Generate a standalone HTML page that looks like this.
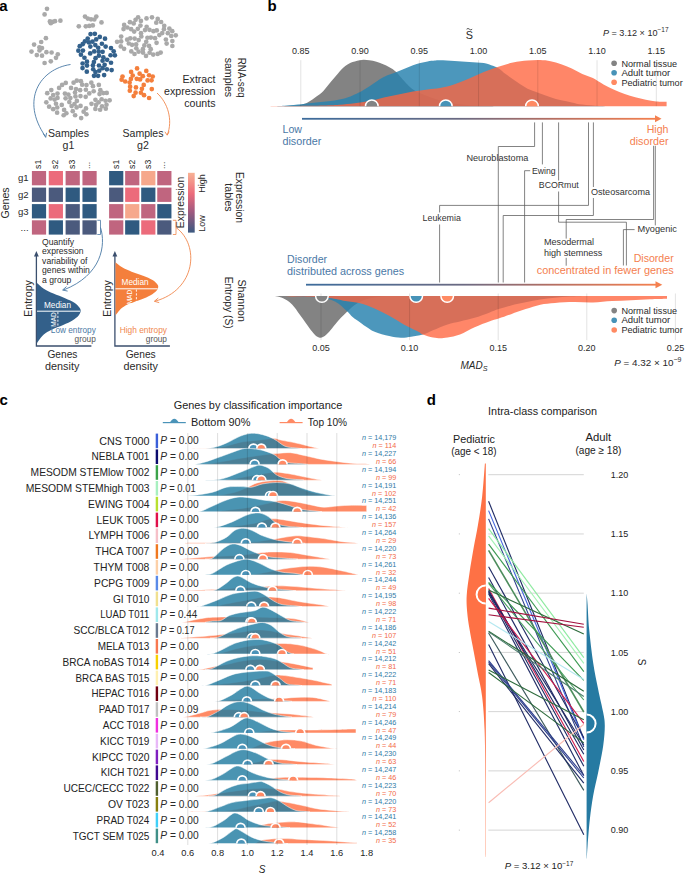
<!DOCTYPE html>
<html><head><meta charset="utf-8"><style>
html,body{margin:0;padding:0;background:#fff;}
svg{display:block;font-family:"Liberation Sans",sans-serif;}
</style></head><body>
<svg width="685" height="873" viewBox="0 0 685 873">
<rect width="685" height="873" fill="#fff"/>
<circle cx="47.00" cy="8.80" r="2.35" fill="#a9a9a9"/>
<circle cx="44.60" cy="14.40" r="2.35" fill="#a9a9a9"/>
<circle cx="49.90" cy="21.40" r="2.35" fill="#a9a9a9"/>
<circle cx="52.60" cy="21.90" r="2.35" fill="#a9a9a9"/>
<circle cx="55.00" cy="21.20" r="2.35" fill="#a9a9a9"/>
<circle cx="60.40" cy="20.70" r="2.35" fill="#a9a9a9"/>
<circle cx="50.80" cy="23.20" r="2.35" fill="#a9a9a9"/>
<circle cx="85.00" cy="16.60" r="2.35" fill="#a9a9a9"/>
<circle cx="87.80" cy="18.60" r="2.35" fill="#a9a9a9"/>
<circle cx="91.00" cy="19.30" r="2.35" fill="#a9a9a9"/>
<circle cx="96.30" cy="16.60" r="2.35" fill="#a9a9a9"/>
<circle cx="94.30" cy="19.50" r="2.35" fill="#a9a9a9"/>
<circle cx="101.50" cy="22.40" r="2.35" fill="#a9a9a9"/>
<circle cx="78.80" cy="26.30" r="2.35" fill="#a9a9a9"/>
<circle cx="85.80" cy="26.30" r="2.35" fill="#a9a9a9"/>
<circle cx="89.30" cy="25.90" r="2.35" fill="#a9a9a9"/>
<circle cx="92.80" cy="25.40" r="2.35" fill="#a9a9a9"/>
<circle cx="45.90" cy="38.20" r="2.35" fill="#a9a9a9"/>
<circle cx="41.20" cy="42.00" r="2.35" fill="#a9a9a9"/>
<circle cx="34.10" cy="44.60" r="2.35" fill="#a9a9a9"/>
<circle cx="39.40" cy="47.30" r="2.35" fill="#a9a9a9"/>
<circle cx="42.00" cy="48.10" r="2.35" fill="#a9a9a9"/>
<circle cx="31.50" cy="51.60" r="2.35" fill="#a9a9a9"/>
<circle cx="36.80" cy="55.10" r="2.35" fill="#a9a9a9"/>
<circle cx="42.00" cy="55.70" r="2.35" fill="#a9a9a9"/>
<circle cx="46.40" cy="52.20" r="2.35" fill="#a9a9a9"/>
<circle cx="51.60" cy="52.50" r="2.35" fill="#a9a9a9"/>
<circle cx="57.80" cy="54.30" r="2.35" fill="#a9a9a9"/>
<circle cx="56.00" cy="57.80" r="2.35" fill="#a9a9a9"/>
<circle cx="50.80" cy="61.30" r="2.35" fill="#a9a9a9"/>
<circle cx="44.60" cy="63.00" r="2.35" fill="#a9a9a9"/>
<circle cx="39.50" cy="50.50" r="2.35" fill="#a9a9a9"/>
<circle cx="130.28" cy="38.31" r="2.35" fill="#a9a9a9"/>
<circle cx="127.20" cy="39.67" r="2.35" fill="#a9a9a9"/>
<circle cx="128.82" cy="43.48" r="2.35" fill="#a9a9a9"/>
<circle cx="132.07" cy="44.85" r="2.35" fill="#a9a9a9"/>
<circle cx="175.74" cy="35.28" r="2.35" fill="#a9a9a9"/>
<circle cx="129.92" cy="22.22" r="2.35" fill="#a9a9a9"/>
<circle cx="133.70" cy="23.41" r="2.35" fill="#a9a9a9"/>
<circle cx="135.58" cy="19.82" r="2.35" fill="#a9a9a9"/>
<circle cx="138.10" cy="17.24" r="2.35" fill="#a9a9a9"/>
<circle cx="144.36" cy="45.47" r="2.35" fill="#a9a9a9"/>
<circle cx="146.23" cy="41.82" r="2.35" fill="#a9a9a9"/>
<circle cx="147.47" cy="37.77" r="2.35" fill="#a9a9a9"/>
<circle cx="150.86" cy="37.56" r="2.35" fill="#a9a9a9"/>
<circle cx="124.16" cy="24.90" r="2.35" fill="#a9a9a9"/>
<circle cx="127.40" cy="27.50" r="2.35" fill="#a9a9a9"/>
<circle cx="131.17" cy="29.19" r="2.35" fill="#a9a9a9"/>
<circle cx="134.20" cy="31.55" r="2.35" fill="#a9a9a9"/>
<circle cx="140.45" cy="25.53" r="2.35" fill="#a9a9a9"/>
<circle cx="156.28" cy="22.69" r="2.35" fill="#a9a9a9"/>
<circle cx="165.90" cy="39.51" r="2.35" fill="#a9a9a9"/>
<circle cx="145.01" cy="30.11" r="2.35" fill="#a9a9a9"/>
<circle cx="146.64" cy="26.76" r="2.35" fill="#a9a9a9"/>
<circle cx="140.91" cy="20.88" r="2.35" fill="#a9a9a9"/>
<circle cx="138.67" cy="40.04" r="2.35" fill="#a9a9a9"/>
<circle cx="134.61" cy="38.62" r="2.35" fill="#a9a9a9"/>
<circle cx="151.99" cy="17.29" r="2.35" fill="#a9a9a9"/>
<circle cx="138.61" cy="51.67" r="2.35" fill="#a9a9a9"/>
<circle cx="153.21" cy="54.57" r="2.35" fill="#a9a9a9"/>
<circle cx="149.63" cy="52.73" r="2.35" fill="#a9a9a9"/>
<circle cx="150.74" cy="49.16" r="2.35" fill="#a9a9a9"/>
<circle cx="149.09" cy="45.96" r="2.35" fill="#a9a9a9"/>
<circle cx="136.33" cy="48.32" r="2.35" fill="#a9a9a9"/>
<circle cx="136.16" cy="44.41" r="2.35" fill="#a9a9a9"/>
<circle cx="156.76" cy="30.46" r="2.35" fill="#a9a9a9"/>
<circle cx="153.48" cy="31.22" r="2.35" fill="#a9a9a9"/>
<circle cx="149.46" cy="29.82" r="2.35" fill="#a9a9a9"/>
<circle cx="137.84" cy="28.82" r="2.35" fill="#a9a9a9"/>
<circle cx="164.23" cy="25.79" r="2.35" fill="#a9a9a9"/>
<circle cx="163.94" cy="29.17" r="2.35" fill="#a9a9a9"/>
<circle cx="162.26" cy="33.07" r="2.35" fill="#a9a9a9"/>
<circle cx="159.35" cy="35.07" r="2.35" fill="#a9a9a9"/>
<circle cx="120.80" cy="46.42" r="2.35" fill="#a9a9a9"/>
<circle cx="124.09" cy="48.85" r="2.35" fill="#a9a9a9"/>
<circle cx="121.13" cy="41.39" r="2.35" fill="#a9a9a9"/>
<circle cx="117.06" cy="41.82" r="2.35" fill="#a9a9a9"/>
<circle cx="141.01" cy="33.21" r="2.35" fill="#a9a9a9"/>
<circle cx="141.34" cy="36.50" r="2.35" fill="#a9a9a9"/>
<circle cx="157.62" cy="53.88" r="2.35" fill="#a9a9a9"/>
<circle cx="160.67" cy="52.58" r="2.35" fill="#a9a9a9"/>
<circle cx="172.34" cy="41.10" r="2.35" fill="#a9a9a9"/>
<circle cx="171.25" cy="35.99" r="2.35" fill="#a9a9a9"/>
<circle cx="121.17" cy="36.59" r="2.35" fill="#a9a9a9"/>
<circle cx="155.02" cy="38.19" r="2.35" fill="#a9a9a9"/>
<circle cx="157.71" cy="18.93" r="2.35" fill="#a9a9a9"/>
<circle cx="172.34" cy="45.99" r="2.35" fill="#a9a9a9"/>
<circle cx="166.64" cy="43.61" r="2.35" fill="#a9a9a9"/>
<circle cx="146.02" cy="55.90" r="2.35" fill="#a9a9a9"/>
<circle cx="161.12" cy="22.01" r="2.35" fill="#a9a9a9"/>
<circle cx="169.36" cy="28.60" r="2.35" fill="#a9a9a9"/>
<circle cx="172.26" cy="31.17" r="2.35" fill="#a9a9a9"/>
<circle cx="167.83" cy="33.16" r="2.35" fill="#a9a9a9"/>
<circle cx="131.30" cy="51.47" r="2.35" fill="#a9a9a9"/>
<circle cx="134.54" cy="53.98" r="2.35" fill="#a9a9a9"/>
<circle cx="123.53" cy="29.07" r="2.35" fill="#a9a9a9"/>
<circle cx="156.55" cy="42.82" r="2.35" fill="#a9a9a9"/>
<circle cx="146.52" cy="18.44" r="2.35" fill="#a9a9a9"/>
<circle cx="142.89" cy="49.18" r="2.35" fill="#a9a9a9"/>
<circle cx="142.98" cy="52.59" r="2.35" fill="#a9a9a9"/>
<circle cx="85.99" cy="108.43" r="2.35" fill="#a9a9a9"/>
<circle cx="100.12" cy="109.76" r="2.35" fill="#a9a9a9"/>
<circle cx="75.99" cy="89.12" r="2.35" fill="#a9a9a9"/>
<circle cx="74.99" cy="92.49" r="2.35" fill="#a9a9a9"/>
<circle cx="63.67" cy="115.24" r="2.35" fill="#a9a9a9"/>
<circle cx="66.38" cy="113.24" r="2.35" fill="#a9a9a9"/>
<circle cx="85.67" cy="96.85" r="2.35" fill="#a9a9a9"/>
<circle cx="59.11" cy="87.90" r="2.35" fill="#a9a9a9"/>
<circle cx="62.13" cy="84.89" r="2.35" fill="#a9a9a9"/>
<circle cx="80.55" cy="105.94" r="2.35" fill="#a9a9a9"/>
<circle cx="76.63" cy="107.42" r="2.35" fill="#a9a9a9"/>
<circle cx="64.92" cy="93.59" r="2.35" fill="#a9a9a9"/>
<circle cx="68.40" cy="94.61" r="2.35" fill="#a9a9a9"/>
<circle cx="98.63" cy="102.36" r="2.35" fill="#a9a9a9"/>
<circle cx="96.05" cy="104.94" r="2.35" fill="#a9a9a9"/>
<circle cx="95.39" cy="108.89" r="2.35" fill="#a9a9a9"/>
<circle cx="57.51" cy="97.93" r="2.35" fill="#a9a9a9"/>
<circle cx="54.62" cy="99.56" r="2.35" fill="#a9a9a9"/>
<circle cx="50.64" cy="98.40" r="2.35" fill="#a9a9a9"/>
<circle cx="69.30" cy="102.06" r="2.35" fill="#a9a9a9"/>
<circle cx="91.50" cy="103.82" r="2.35" fill="#a9a9a9"/>
<circle cx="106.73" cy="92.93" r="2.35" fill="#a9a9a9"/>
<circle cx="103.33" cy="93.03" r="2.35" fill="#a9a9a9"/>
<circle cx="100.37" cy="90.20" r="2.35" fill="#a9a9a9"/>
<circle cx="105.57" cy="100.76" r="2.35" fill="#a9a9a9"/>
<circle cx="106.50" cy="104.75" r="2.35" fill="#a9a9a9"/>
<circle cx="105.79" cy="108.71" r="2.35" fill="#a9a9a9"/>
<circle cx="65.60" cy="98.37" r="2.35" fill="#a9a9a9"/>
<circle cx="109.64" cy="100.31" r="2.35" fill="#a9a9a9"/>
<circle cx="61.76" cy="104.89" r="2.35" fill="#a9a9a9"/>
<circle cx="82.16" cy="84.68" r="2.35" fill="#a9a9a9"/>
<circle cx="80.92" cy="81.16" r="2.35" fill="#a9a9a9"/>
<circle cx="76.80" cy="80.70" r="2.35" fill="#a9a9a9"/>
<circle cx="73.60" cy="82.65" r="2.35" fill="#a9a9a9"/>
<circle cx="51.29" cy="90.12" r="2.35" fill="#a9a9a9"/>
<circle cx="57.11" cy="112.72" r="2.35" fill="#a9a9a9"/>
<circle cx="89.29" cy="93.41" r="2.35" fill="#a9a9a9"/>
<circle cx="102.04" cy="106.35" r="2.35" fill="#a9a9a9"/>
<circle cx="92.97" cy="86.20" r="2.35" fill="#a9a9a9"/>
<circle cx="91.33" cy="82.72" r="2.35" fill="#a9a9a9"/>
<circle cx="57.23" cy="107.52" r="2.35" fill="#a9a9a9"/>
<circle cx="76.87" cy="100.88" r="2.35" fill="#a9a9a9"/>
<circle cx="74.48" cy="103.98" r="2.35" fill="#a9a9a9"/>
<circle cx="71.62" cy="106.05" r="2.35" fill="#a9a9a9"/>
<circle cx="99.54" cy="94.08" r="2.35" fill="#a9a9a9"/>
<circle cx="72.74" cy="111.21" r="2.35" fill="#a9a9a9"/>
<circle cx="70.38" cy="98.10" r="2.35" fill="#a9a9a9"/>
<circle cx="86.41" cy="114.26" r="2.35" fill="#a9a9a9"/>
<circle cx="83.63" cy="111.69" r="2.35" fill="#a9a9a9"/>
<circle cx="93.67" cy="91.23" r="2.35" fill="#a9a9a9"/>
<circle cx="80.12" cy="90.18" r="2.35" fill="#a9a9a9"/>
<circle cx="53.18" cy="109.16" r="2.35" fill="#a9a9a9"/>
<circle cx="47.23" cy="93.14" r="2.35" fill="#a9a9a9"/>
<circle cx="75.11" cy="115.25" r="2.35" fill="#a9a9a9"/>
<circle cx="64.11" cy="109.95" r="2.35" fill="#a9a9a9"/>
<circle cx="80.47" cy="96.10" r="2.35" fill="#a9a9a9"/>
<circle cx="55.98" cy="103.77" r="2.35" fill="#a9a9a9"/>
<circle cx="53.19" cy="95.04" r="2.35" fill="#a9a9a9"/>
<circle cx="49.12" cy="106.69" r="2.35" fill="#a9a9a9"/>
<circle cx="85.86" cy="89.77" r="2.35" fill="#a9a9a9"/>
<circle cx="101.62" cy="99.25" r="2.35" fill="#a9a9a9"/>
<circle cx="98.84" cy="84.95" r="2.35" fill="#a9a9a9"/>
<circle cx="57.49" cy="93.60" r="2.35" fill="#a9a9a9"/>
<circle cx="81.15" cy="118.09" r="2.35" fill="#a9a9a9"/>
<circle cx="95.43" cy="99.87" r="2.35" fill="#a9a9a9"/>
<circle cx="65.76" cy="82.92" r="2.35" fill="#a9a9a9"/>
<circle cx="46.31" cy="102.29" r="2.35" fill="#a9a9a9"/>
<circle cx="86.49" cy="85.12" r="2.35" fill="#a9a9a9"/>
<circle cx="75.46" cy="96.43" r="2.35" fill="#a9a9a9"/>
<circle cx="71.03" cy="87.91" r="2.35" fill="#a9a9a9"/>
<circle cx="95.54" cy="58.18" r="2.35" fill="#33618c"/>
<circle cx="98.90" cy="55.73" r="2.35" fill="#33618c"/>
<circle cx="98.68" cy="51.63" r="2.35" fill="#33618c"/>
<circle cx="98.18" cy="47.75" r="2.35" fill="#33618c"/>
<circle cx="84.46" cy="57.73" r="2.35" fill="#33618c"/>
<circle cx="98.97" cy="65.48" r="2.35" fill="#33618c"/>
<circle cx="104.63" cy="64.78" r="2.35" fill="#33618c"/>
<circle cx="102.60" cy="68.16" r="2.35" fill="#33618c"/>
<circle cx="90.35" cy="46.62" r="2.35" fill="#33618c"/>
<circle cx="82.92" cy="50.62" r="2.35" fill="#33618c"/>
<circle cx="99.25" cy="70.69" r="2.35" fill="#33618c"/>
<circle cx="104.13" cy="75.06" r="2.35" fill="#33618c"/>
<circle cx="92.49" cy="41.67" r="2.35" fill="#33618c"/>
<circle cx="88.94" cy="42.47" r="2.35" fill="#33618c"/>
<circle cx="87.71" cy="38.60" r="2.35" fill="#33618c"/>
<circle cx="78.37" cy="50.63" r="2.35" fill="#33618c"/>
<circle cx="96.18" cy="39.44" r="2.35" fill="#33618c"/>
<circle cx="113.69" cy="51.36" r="2.35" fill="#33618c"/>
<circle cx="110.58" cy="55.24" r="2.35" fill="#33618c"/>
<circle cx="101.89" cy="43.76" r="2.35" fill="#33618c"/>
<circle cx="93.92" cy="62.04" r="2.35" fill="#33618c"/>
<circle cx="92.93" cy="65.33" r="2.35" fill="#33618c"/>
<circle cx="93.21" cy="69.24" r="2.35" fill="#33618c"/>
<circle cx="95.43" cy="71.99" r="2.35" fill="#33618c"/>
<circle cx="87.00" cy="65.60" r="2.35" fill="#33618c"/>
<circle cx="86.97" cy="61.70" r="2.35" fill="#33618c"/>
<circle cx="95.31" cy="45.07" r="2.35" fill="#33618c"/>
<circle cx="103.35" cy="57.33" r="2.35" fill="#33618c"/>
<circle cx="102.55" cy="60.74" r="2.35" fill="#33618c"/>
<circle cx="82.54" cy="68.04" r="2.35" fill="#33618c"/>
<circle cx="82.63" cy="63.52" r="2.35" fill="#33618c"/>
<circle cx="86.80" cy="71.71" r="2.35" fill="#33618c"/>
<circle cx="102.60" cy="51.79" r="2.35" fill="#33618c"/>
<circle cx="79.74" cy="46.18" r="2.35" fill="#33618c"/>
<circle cx="82.67" cy="44.18" r="2.35" fill="#33618c"/>
<circle cx="84.87" cy="41.40" r="2.35" fill="#33618c"/>
<circle cx="80.91" cy="54.63" r="2.35" fill="#33618c"/>
<circle cx="111.64" cy="70.05" r="2.35" fill="#33618c"/>
<circle cx="111.01" cy="62.74" r="2.35" fill="#33618c"/>
<circle cx="114.88" cy="55.36" r="2.35" fill="#33618c"/>
<circle cx="110.99" cy="48.03" r="2.35" fill="#33618c"/>
<circle cx="93.99" cy="75.80" r="2.35" fill="#33618c"/>
<circle cx="98.08" cy="75.78" r="2.35" fill="#33618c"/>
<circle cx="99.83" cy="36.97" r="2.35" fill="#33618c"/>
<circle cx="105.02" cy="38.70" r="2.35" fill="#33618c"/>
<circle cx="94.23" cy="51.41" r="2.35" fill="#33618c"/>
<circle cx="90.55" cy="34.09" r="2.35" fill="#33618c"/>
<circle cx="94.83" cy="33.87" r="2.35" fill="#33618c"/>
<circle cx="107.13" cy="59.81" r="2.35" fill="#33618c"/>
<circle cx="90.19" cy="53.41" r="2.35" fill="#33618c"/>
<circle cx="106.89" cy="69.32" r="2.35" fill="#33618c"/>
<circle cx="105.65" cy="46.61" r="2.35" fill="#33618c"/>
<circle cx="129.82" cy="90.67" r="2.35" fill="#f47f3c"/>
<circle cx="130.11" cy="86.71" r="2.35" fill="#f47f3c"/>
<circle cx="151.79" cy="89.07" r="2.35" fill="#f47f3c"/>
<circle cx="139.63" cy="73.70" r="2.35" fill="#f47f3c"/>
<circle cx="142.79" cy="76.13" r="2.35" fill="#f47f3c"/>
<circle cx="140.09" cy="79.47" r="2.35" fill="#f47f3c"/>
<circle cx="136.76" cy="78.87" r="2.35" fill="#f47f3c"/>
<circle cx="149.09" cy="97.98" r="2.35" fill="#f47f3c"/>
<circle cx="149.08" cy="75.24" r="2.35" fill="#f47f3c"/>
<circle cx="152.72" cy="76.49" r="2.35" fill="#f47f3c"/>
<circle cx="151.54" cy="80.29" r="2.35" fill="#f47f3c"/>
<circle cx="147.60" cy="80.39" r="2.35" fill="#f47f3c"/>
<circle cx="141.91" cy="88.82" r="2.35" fill="#f47f3c"/>
<circle cx="140.89" cy="92.73" r="2.35" fill="#f47f3c"/>
<circle cx="144.04" cy="95.16" r="2.35" fill="#f47f3c"/>
<circle cx="129.62" cy="82.54" r="2.35" fill="#f47f3c"/>
<circle cx="130.90" cy="78.88" r="2.35" fill="#f47f3c"/>
<circle cx="132.75" cy="75.49" r="2.35" fill="#f47f3c"/>
<circle cx="125.22" cy="81.49" r="2.35" fill="#f47f3c"/>
<circle cx="121.62" cy="79.72" r="2.35" fill="#f47f3c"/>
<circle cx="122.52" cy="76.50" r="2.35" fill="#f47f3c"/>
<circle cx="146.29" cy="70.93" r="2.35" fill="#f47f3c"/>
<circle cx="131.13" cy="71.92" r="2.35" fill="#f47f3c"/>
<circle cx="135.95" cy="87.42" r="2.35" fill="#f47f3c"/>
<circle cx="143.72" cy="84.96" r="2.35" fill="#f47f3c"/>
<circle cx="133.70" cy="96.04" r="2.35" fill="#f47f3c"/>
<circle cx="135.56" cy="92.66" r="2.35" fill="#f47f3c"/>
<circle cx="137.08" cy="68.47" r="2.35" fill="#f47f3c"/>
<path d="M70.5,64.5 C40,69 20,100 45.5,136.5" stroke="#4a79a5" stroke-width="0.9" fill="none"/>
<path d="M43.2,133.6 L45.7,137.4 L46.6,132.8" stroke="#4a79a5" stroke-width="0.9" fill="none"/>
<path d="M157,93 C168,103 173,120 167.3,135" stroke="#f0884e" stroke-width="0.9" fill="none"/>
<path d="M164.9,131.8 L167.2,135.2 L169.1,131.6" stroke="#f0884e" stroke-width="0.9" fill="none"/>
<text x="-0.80" y="10.80" font-size="15" fill="#000" font-weight="bold">a</text>
<text x="68.50" y="137.40" font-size="10.6" fill="#2a2a2a" text-anchor="middle" textLength="41.00" lengthAdjust="spacingAndGlyphs">Samples</text>
<text x="68.50" y="148.60" font-size="10.6" fill="#2a2a2a" text-anchor="middle">g1</text>
<text x="143.00" y="137.40" font-size="10.6" fill="#2a2a2a" text-anchor="middle" textLength="41.00" lengthAdjust="spacingAndGlyphs">Samples</text>
<text x="143.00" y="148.60" font-size="10.6" fill="#2a2a2a" text-anchor="middle">g2</text>
<text x="215.50" y="83.00" font-size="10.6" fill="#2a2a2a" text-anchor="end">Extract</text>
<text x="215.50" y="94.80" font-size="10.6" fill="#2a2a2a" text-anchor="end" textLength="51.50" lengthAdjust="spacingAndGlyphs">expression</text>
<text x="215.50" y="106.60" font-size="10.6" fill="#2a2a2a" text-anchor="end">counts</text>
<text x="237.70" y="77.70" font-size="10.6" fill="#2a2a2a" text-anchor="middle" textLength="40.00" lengthAdjust="spacingAndGlyphs" transform="rotate(90 237.70 77.70)">RNA-seq</text>
<text x="224.80" y="77.40" font-size="10.6" fill="#2a2a2a" text-anchor="middle" textLength="39.50" lengthAdjust="spacingAndGlyphs" transform="rotate(90 224.80 77.40)">samples</text>
<text x="236.20" y="197.50" font-size="10.6" fill="#2a2a2a" text-anchor="middle" textLength="51.00" lengthAdjust="spacingAndGlyphs" transform="rotate(90 236.20 197.50)">Expression</text>
<text x="225.20" y="197.50" font-size="10.6" fill="#2a2a2a" text-anchor="middle" transform="rotate(90 225.20 197.50)">tables</text>
<text x="238.00" y="300.70" font-size="10.6" fill="#2a2a2a" text-anchor="middle" textLength="42.40" lengthAdjust="spacingAndGlyphs" transform="rotate(90 238.00 300.70)">Shannon</text>
<text x="225.40" y="302.70" font-size="10.6" fill="#2a2a2a" text-anchor="middle" textLength="52.00" lengthAdjust="spacingAndGlyphs" transform="rotate(90 225.40 302.70)">Entropy (S)</text>
<rect x="31.90" y="171.00" width="14.2" height="14.3" fill="#c0657f"/>
<rect x="48.75" y="171.00" width="14.2" height="14.3" fill="#ec6b7b"/>
<rect x="65.60" y="171.00" width="14.2" height="14.3" fill="#c0657f"/>
<rect x="82.45" y="171.00" width="14.2" height="14.3" fill="#c0657f"/>
<rect x="31.90" y="187.60" width="14.2" height="14.3" fill="#4b5a7d"/>
<rect x="48.75" y="187.60" width="14.2" height="14.3" fill="#4b5a7d"/>
<rect x="65.60" y="187.60" width="14.2" height="14.3" fill="#2f5a80"/>
<rect x="82.45" y="187.60" width="14.2" height="14.3" fill="#2f5a80"/>
<rect x="31.90" y="204.10" width="14.2" height="14.3" fill="#2f5a80"/>
<rect x="48.75" y="204.10" width="14.2" height="14.3" fill="#ec6b7b"/>
<rect x="65.60" y="204.10" width="14.2" height="14.3" fill="#4b5a7d"/>
<rect x="82.45" y="204.10" width="14.2" height="14.3" fill="#2f5a80"/>
<rect x="31.90" y="220.30" width="14.2" height="14.3" fill="#c0657f"/>
<rect x="48.75" y="220.30" width="14.2" height="14.3" fill="#2f5a80"/>
<rect x="65.60" y="220.30" width="14.2" height="14.3" fill="#4b5a7d"/>
<rect x="82.45" y="220.30" width="14.2" height="14.3" fill="#4b5a7d"/>
<rect x="109.10" y="171.00" width="14.2" height="14.3" fill="#2f5a80"/>
<rect x="125.15" y="171.00" width="14.2" height="14.3" fill="#c0657f"/>
<rect x="141.20" y="171.00" width="14.2" height="14.3" fill="#f6a88c"/>
<rect x="157.25" y="171.00" width="14.2" height="14.3" fill="#c0657f"/>
<rect x="109.10" y="187.60" width="14.2" height="14.3" fill="#4b5a7d"/>
<rect x="125.15" y="187.60" width="14.2" height="14.3" fill="#ec6b7b"/>
<rect x="141.20" y="187.60" width="14.2" height="14.3" fill="#2f5a80"/>
<rect x="157.25" y="187.60" width="14.2" height="14.3" fill="#c0657f"/>
<rect x="109.10" y="204.10" width="14.2" height="14.3" fill="#c0657f"/>
<rect x="125.15" y="204.10" width="14.2" height="14.3" fill="#f6a88c"/>
<rect x="141.20" y="204.10" width="14.2" height="14.3" fill="#c0657f"/>
<rect x="157.25" y="204.10" width="14.2" height="14.3" fill="#2f5a80"/>
<rect x="109.10" y="220.30" width="14.2" height="14.3" fill="#c0657f"/>
<rect x="125.15" y="220.30" width="14.2" height="14.3" fill="#2f5a80"/>
<rect x="141.20" y="220.30" width="14.2" height="14.3" fill="#ec6b7b"/>
<rect x="157.25" y="220.30" width="14.2" height="14.3" fill="#4b5a7d"/>
<text x="41.50" y="168.90" font-size="8.6" fill="#2a2a2a" transform="rotate(-90 41.50 168.90)">s1</text>
<text x="118.70" y="168.90" font-size="8.6" fill="#2a2a2a" transform="rotate(-90 118.70 168.90)">s1</text>
<text x="58.35" y="168.90" font-size="8.6" fill="#2a2a2a" transform="rotate(-90 58.35 168.90)">s2</text>
<text x="134.75" y="168.90" font-size="8.6" fill="#2a2a2a" transform="rotate(-90 134.75 168.90)">s2</text>
<text x="75.20" y="168.90" font-size="8.6" fill="#2a2a2a" transform="rotate(-90 75.20 168.90)">s3</text>
<text x="150.80" y="168.90" font-size="8.6" fill="#2a2a2a" transform="rotate(-90 150.80 168.90)">s3</text>
<text x="90.45" y="168.90" font-size="8.6" fill="#2a2a2a" transform="rotate(-90 90.45 168.90)">...</text>
<text x="165.25" y="168.90" font-size="8.6" fill="#2a2a2a" transform="rotate(-90 165.25 168.90)">...</text>
<text x="28.60" y="181.40" font-size="9.6" fill="#2a2a2a" text-anchor="end">g1</text>
<text x="28.60" y="198.00" font-size="9.6" fill="#2a2a2a" text-anchor="end">g2</text>
<text x="28.60" y="214.50" font-size="9.6" fill="#2a2a2a" text-anchor="end">g3</text>
<text x="28.60" y="230.70" font-size="9.6" fill="#2a2a2a" text-anchor="end">...</text>
<text x="8.70" y="203.00" font-size="10.6" fill="#2a2a2a" text-anchor="middle" textLength="31.00" lengthAdjust="spacingAndGlyphs" transform="rotate(-90 8.70 203.00)">Genes</text>
<defs><linearGradient id="cb" x1="0" y1="0" x2="0" y2="1"><stop offset="0" stop-color="#f8b294"/><stop offset="0.35" stop-color="#ec6b7b"/><stop offset="0.65" stop-color="#a05a80"/><stop offset="1" stop-color="#3b5980"/></linearGradient></defs>
<rect x="188" y="172.8" width="6.7" height="59.8" fill="url(#cb)"/>
<text x="184.30" y="202.50" font-size="10.4" fill="#2a2a2a" text-anchor="middle" textLength="51.50" lengthAdjust="spacingAndGlyphs" transform="rotate(-90 184.30 202.50)">Expression</text>
<text x="205.00" y="183.50" font-size="9" fill="#2a2a2a" text-anchor="middle" transform="rotate(-90 205.00 183.50)">High</text>
<text x="205.00" y="223.50" font-size="9" fill="#2a2a2a" text-anchor="middle" transform="rotate(-90 205.00 223.50)">Low</text>
<path d="M97.3,220.3 H100.5 V234.5 H97.3" stroke="#4a79a5" stroke-width="0.8" fill="none"/>
<path d="M172.9,220.3 H176 V234.5 H172.9" stroke="#f0884e" stroke-width="0.8" fill="none"/>
<path d="M100.5,227.5 C106,245 102,275 63.5,290" stroke="#4a79a5" stroke-width="0.9" fill="none"/>
<path d="M66.5,286.6 L62.6,290 L67.6,291.1" stroke="#4a79a5" stroke-width="0.9" fill="none"/>
<path d="M176,227.5 C200,245 196,290 155,301.2" stroke="#f0884e" stroke-width="0.9" fill="none"/>
<path d="M158.3,298 L154.3,301.3 L159.2,302.6" stroke="#f0884e" stroke-width="0.9" fill="none"/>
<text x="42.10" y="244.80" font-size="8.6" fill="#2a2a2a">Quantify</text>
<text x="42.10" y="254.25" font-size="8.6" fill="#2a2a2a">expression</text>
<text x="42.10" y="263.70" font-size="8.6" fill="#2a2a2a">variability of</text>
<text x="42.10" y="273.15" font-size="8.6" fill="#2a2a2a">genes within</text>
<text x="42.10" y="282.60" font-size="8.6" fill="#2a2a2a">a group</text>
<path d="M36.4,254.8 V346 H91.4" stroke="#3b4f6e" stroke-width="1.3" fill="none"/>
<path d="M34.0,256.5 L36.4,251 L38.8,256.5 Z" fill="#3b4f6e"/>
<path d="M37.00,283.00 C38.13,283.95 41.02,286.94 43.76,288.70 C46.50,290.46 49.88,291.97 53.44,293.56 C56.99,295.15 61.52,296.67 65.08,298.24 C68.64,299.81 72.38,301.39 74.80,302.98 C77.22,304.57 78.63,306.41 79.60,307.78 C80.56,309.15 80.76,309.93 80.60,311.20 C80.44,312.47 79.93,313.91 78.64,315.40 C77.34,316.89 75.42,318.55 72.84,320.14 C70.26,321.73 66.71,323.35 63.16,324.94 C59.61,326.53 54.75,328.09 51.52,329.68 C48.29,331.27 45.86,332.73 43.76,334.48 C41.66,336.23 40.04,338.76 38.92,340.18 C37.79,341.60 37.32,342.53 37.00,343.00 L37.0,343 Z" fill="#33608a"/>
<line x1="37.0" y1="311.2" x2="80" y2="311.2" stroke="#fff" stroke-width="1"/>
<text x="44.00" y="307.80" font-size="8.3" fill="#fff" textLength="27.00" lengthAdjust="spacingAndGlyphs">Median</text>
<text x="55.50" y="319.50" font-size="6.8" fill="#fff" text-anchor="middle" textLength="14.50" lengthAdjust="spacingAndGlyphs" transform="rotate(-90 55.50 319.50)">MAD</text>
<line x1="57.9" y1="312" x2="57.9" y2="328" stroke="#fff" stroke-width="0.9" stroke-dasharray="2.2,1.6"/>
<path d="M114.9,254.8 V346 H169.9" stroke="#3b4f6e" stroke-width="1.3" fill="none"/>
<path d="M112.5,256.5 L114.9,251 L117.30000000000001,256.5 Z" fill="#3b4f6e"/>
<path d="M115.50,262.30 C116.60,263.14 119.44,265.79 122.12,267.34 C124.80,268.90 128.12,270.24 131.60,271.65 C135.08,273.05 139.51,274.40 143.00,275.79 C146.49,277.18 150.15,278.58 152.52,279.98 C154.89,281.39 156.27,283.02 157.22,284.23 C158.16,285.44 158.36,286.13 158.20,287.26 C158.04,288.38 157.55,289.66 156.28,290.97 C155.01,292.29 153.13,293.76 150.60,295.17 C148.07,296.58 144.60,298.01 141.12,299.42 C137.64,300.82 132.89,302.20 129.72,303.61 C126.55,305.02 124.18,306.31 122.12,307.86 C120.06,309.41 118.48,311.65 117.38,312.90 C116.28,314.16 115.81,314.98 115.50,315.40 L115.5,315.4 Z" fill="#f47f3c"/>
<line x1="115.5" y1="288.8" x2="157.6" y2="288.8" stroke="#fff" stroke-width="1"/>
<text x="121.60" y="285.40" font-size="8.3" fill="#fff" textLength="27.00" lengthAdjust="spacingAndGlyphs">Median</text>
<text x="132.50" y="297.10" font-size="6.8" fill="#fff" text-anchor="middle" textLength="14.50" lengthAdjust="spacingAndGlyphs" transform="rotate(-90 132.50 297.10)">MAD</text>
<line x1="136.4" y1="289.5" x2="136.4" y2="304" stroke="#fff" stroke-width="0.9" stroke-dasharray="2.2,1.6"/>
<text x="95.80" y="333.40" font-size="8.3" fill="#4a79a5" text-anchor="end" textLength="45.00" lengthAdjust="spacingAndGlyphs">Low entropy</text>
<text x="95.80" y="342.00" font-size="8.3" fill="#555" text-anchor="end">group</text>
<text x="167.00" y="333.40" font-size="8.3" fill="#f0884e" text-anchor="end" textLength="47.30" lengthAdjust="spacingAndGlyphs">High entropy</text>
<text x="167.00" y="342.00" font-size="8.3" fill="#555" text-anchor="end">group</text>
<text x="32.30" y="298.50" font-size="10.6" fill="#2a2a2a" text-anchor="middle" textLength="37.00" lengthAdjust="spacingAndGlyphs" transform="rotate(-90 32.30 298.50)">Entropy</text>
<text x="111.10" y="298.50" font-size="10.6" fill="#2a2a2a" text-anchor="middle" textLength="37.00" lengthAdjust="spacingAndGlyphs" transform="rotate(-90 111.10 298.50)">Entropy</text>
<text x="62.40" y="358.00" font-size="10.6" fill="#2a2a2a" text-anchor="middle" textLength="30.00" lengthAdjust="spacingAndGlyphs">Genes</text>
<text x="62.20" y="369.50" font-size="10.6" fill="#2a2a2a" text-anchor="middle" textLength="34.30" lengthAdjust="spacingAndGlyphs">density</text>
<text x="140.70" y="358.00" font-size="10.6" fill="#2a2a2a" text-anchor="middle" textLength="30.00" lengthAdjust="spacingAndGlyphs">Genes</text>
<text x="140.70" y="369.50" font-size="10.6" fill="#2a2a2a" text-anchor="middle" textLength="34.30" lengthAdjust="spacingAndGlyphs">density</text>
<text x="267.60" y="11.10" font-size="15" fill="#000" font-weight="bold">b</text>
<path d="M273.50,106.20 C275.75,106.15 282.33,106.15 287.00,105.90 C291.67,105.65 297.87,105.38 301.50,104.70 C305.13,104.02 306.37,103.13 308.80,101.80 C311.23,100.47 313.67,98.52 316.10,96.70 C318.53,94.88 320.97,93.33 323.40,90.90 C325.83,88.47 328.27,85.02 330.70,82.10 C333.13,79.18 335.57,76.07 338.00,73.40 C340.43,70.73 342.87,68.00 345.30,66.10 C347.73,64.20 349.83,63.03 352.60,62.00 C355.37,60.97 359.13,60.20 361.90,59.90 C364.67,59.60 366.77,59.90 369.20,60.20 C371.63,60.50 374.07,60.97 376.50,61.70 C378.93,62.43 381.37,63.52 383.80,64.60 C386.23,65.68 389.03,66.98 391.10,68.20 C393.17,69.42 394.50,70.32 396.20,71.90 C397.90,73.48 399.47,75.63 401.30,77.70 C403.13,79.77 405.25,82.35 407.20,84.30 C409.15,86.25 410.57,87.82 413.00,89.40 C415.43,90.98 418.40,92.33 421.80,93.80 C425.20,95.27 429.53,96.92 433.40,98.20 C437.27,99.48 440.57,100.48 445.00,101.50 C449.43,102.52 454.17,103.58 460.00,104.30 C465.83,105.02 474.17,105.48 480.00,105.80 C485.83,106.12 492.50,106.13 495.00,106.20 L495.00,106.2 L273.50,106.2 Z" fill="#838383"/>
<path d="M273.50,106.20 C274.58,106.17 277.77,106.12 280.00,106.00 C282.23,105.88 283.32,105.78 286.90,105.50 C290.48,105.22 296.63,104.78 301.50,104.30 C306.37,103.82 311.23,103.13 316.10,102.60 C320.97,102.07 325.83,101.83 330.70,101.10 C335.57,100.37 341.32,99.30 345.30,98.20 C349.28,97.10 351.83,95.72 354.60,94.50 C357.37,93.28 359.47,92.23 361.90,90.90 C364.33,89.57 366.77,88.08 369.20,86.50 C371.63,84.92 374.07,82.98 376.50,81.40 C378.93,79.82 381.37,78.22 383.80,77.00 C386.23,75.78 388.67,75.07 391.10,74.10 C393.53,73.13 395.97,72.18 398.40,71.20 C400.83,70.22 403.27,69.18 405.70,68.20 C408.13,67.22 410.57,66.15 413.00,65.30 C415.43,64.45 417.87,63.75 420.30,63.10 C422.73,62.45 425.17,61.83 427.60,61.40 C430.03,60.97 432.83,60.70 434.90,60.50 C436.97,60.30 436.72,60.13 440.00,60.20 C443.28,60.27 449.73,60.60 454.60,60.90 C459.47,61.20 464.33,61.63 469.20,62.00 C474.07,62.37 480.15,62.55 483.80,63.10 C487.45,63.65 488.67,64.45 491.10,65.30 C493.53,66.15 495.97,66.73 498.40,68.20 C500.83,69.67 503.27,72.27 505.70,74.10 C508.13,75.93 510.57,77.50 513.00,79.20 C515.43,80.90 517.87,82.72 520.30,84.30 C522.73,85.88 525.17,87.48 527.60,88.70 C530.03,89.92 532.83,90.80 534.90,91.60 C536.97,92.40 537.38,92.57 540.00,93.50 C542.62,94.43 547.07,96.07 550.60,97.20 C554.13,98.33 557.67,99.43 561.20,100.30 C564.73,101.17 568.28,101.68 571.80,102.40 C575.32,103.12 577.60,104.00 582.30,104.60 C587.00,105.20 594.55,105.73 600.00,106.00 C605.45,106.27 612.50,106.17 615.00,106.20 L615.00,106.2 L273.50,106.2 Z" fill="rgba(40,130,175,0.83)"/>
<path d="M270.00,106.20 C272.82,106.18 280.43,106.17 286.90,106.10 C293.37,106.03 301.50,105.95 308.80,105.80 C316.10,105.65 325.50,105.38 330.70,105.20 C335.90,105.02 336.02,105.02 340.00,104.70 C343.98,104.38 349.73,103.90 354.60,103.30 C359.47,102.70 364.33,102.08 369.20,101.10 C374.07,100.12 378.93,98.50 383.80,97.40 C388.67,96.30 393.53,95.47 398.40,94.50 C403.27,93.53 408.13,92.45 413.00,91.60 C417.87,90.75 423.10,90.00 427.60,89.40 C432.10,88.80 435.50,88.85 440.00,88.00 C444.50,87.15 449.73,85.88 454.60,84.30 C459.47,82.72 464.33,80.57 469.20,78.50 C474.07,76.43 478.93,73.85 483.80,71.90 C488.67,69.95 493.53,68.38 498.40,66.80 C503.27,65.22 508.13,63.45 513.00,62.40 C517.87,61.35 523.10,60.90 527.60,60.50 C532.10,60.10 536.17,59.88 540.00,60.00 C543.83,60.12 547.07,60.48 550.60,61.20 C554.13,61.92 557.67,63.07 561.20,64.30 C564.73,65.53 568.28,67.00 571.80,68.60 C575.32,70.20 578.78,72.32 582.30,73.90 C585.82,75.48 589.37,76.33 592.90,78.10 C596.43,79.87 599.97,82.57 603.50,84.50 C607.03,86.43 610.57,88.12 614.10,89.70 C617.63,91.28 621.17,92.75 624.70,94.00 C628.23,95.25 631.78,96.25 635.30,97.20 C638.82,98.15 642.28,99.00 645.80,99.70 C649.32,100.40 652.93,101.05 656.40,101.40 C659.87,101.75 664.90,101.73 666.60,101.80 L666.60,106.2 L270.00,106.2 Z" fill="rgba(255,100,62,0.78)"/>
<line x1="300.80" y1="60.20" x2="300.80" y2="106.20" stroke="rgba(0,0,0,0.13)" stroke-width="0.9" />
<text x="300.80" y="54.20" font-size="9" fill="#2a2a2a" text-anchor="middle">0.85</text>
<line x1="360.05" y1="60.20" x2="360.05" y2="106.20" stroke="rgba(0,0,0,0.13)" stroke-width="0.9" />
<text x="360.05" y="54.20" font-size="9" fill="#2a2a2a" text-anchor="middle">0.90</text>
<line x1="419.30" y1="60.20" x2="419.30" y2="106.20" stroke="rgba(0,0,0,0.13)" stroke-width="0.9" />
<text x="419.30" y="54.20" font-size="9" fill="#2a2a2a" text-anchor="middle">0.95</text>
<line x1="478.55" y1="60.20" x2="478.55" y2="106.20" stroke="rgba(0,0,0,0.13)" stroke-width="0.9" />
<text x="478.55" y="54.20" font-size="9" fill="#2a2a2a" text-anchor="middle">1.00</text>
<line x1="537.80" y1="60.20" x2="537.80" y2="106.20" stroke="rgba(0,0,0,0.13)" stroke-width="0.9" />
<text x="537.80" y="54.20" font-size="9" fill="#2a2a2a" text-anchor="middle">1.05</text>
<line x1="597.05" y1="60.20" x2="597.05" y2="106.20" stroke="rgba(0,0,0,0.13)" stroke-width="0.9" />
<text x="597.05" y="54.20" font-size="9" fill="#2a2a2a" text-anchor="middle">1.10</text>
<line x1="656.30" y1="60.20" x2="656.30" y2="106.20" stroke="rgba(0,0,0,0.13)" stroke-width="0.9" />
<text x="656.30" y="54.20" font-size="9" fill="#2a2a2a" text-anchor="middle">1.15</text>
<clipPath id="cu"><rect x="260" y="90" width="425" height="16.2"/></clipPath>
<circle cx="371.8" cy="106.2" r="6.3" fill="#838383" stroke="#fff" stroke-width="1.5" clip-path="url(#cu)"/>
<circle cx="445.8" cy="106.2" r="6.3" fill="#4793b8" stroke="#fff" stroke-width="1.5" clip-path="url(#cu)"/>
<circle cx="532" cy="106.2" r="6.3" fill="#ff8a63" stroke="#fff" stroke-width="1.5" clip-path="url(#cu)"/>
<circle cx="614.1" cy="63.3" r="2.8" fill="#838383"/>
<text x="621.40" y="66.60" font-size="9.3" fill="#2a2a2a" textLength="55.70" lengthAdjust="spacingAndGlyphs">Normal tissue</text>
<circle cx="614.1" cy="72.8" r="2.8" fill="#4793b8"/>
<text x="621.40" y="76.10" font-size="9.3" fill="#2a2a2a" textLength="48.80" lengthAdjust="spacingAndGlyphs">Adult tumor</text>
<circle cx="614.1" cy="82.3" r="2.8" fill="#ff8a63"/>
<text x="621.40" y="85.60" font-size="9.3" fill="#2a2a2a" textLength="61.30" lengthAdjust="spacingAndGlyphs">Pediatric tumor</text>
<text x="469.40" y="38.60" font-size="10.8" fill="#2a2a2a" text-anchor="middle">S</text>
<path d="M466.6,29.2 q1.4,-1.5 2.8,0 q1.4,1.5 2.8,0" stroke="#2a2a2a" stroke-width="0.8" fill="none"/>
<text x="602.90" y="35.50" font-size="9.1" fill="#2a2a2a"><tspan font-style="italic">P</tspan> = 3.12 × 10<tspan dy="-3.5" font-size="6.5">−17</tspan></text>
<defs><linearGradient id="ag" x1="0" y1="0" x2="1" y2="0"><stop offset="0" stop-color="#3d6c9c"/><stop offset="0.45" stop-color="#6b6a82"/><stop offset="0.7" stop-color="#b46e62"/><stop offset="1" stop-color="#f4804f"/></linearGradient></defs>
<rect x="302" y="117.9" width="354" height="1.8" fill="url(#ag)"/>
<path d="M655,115.3 L661.5,118.8 L655,122.3 Z" fill="#f4804f"/>
<rect x="306" y="283.8" width="351" height="1.8" fill="url(#ag)"/>
<path d="M655.5,281.2 L662.3,284.7 L655.5,288.2 Z" fill="#f4804f"/>
<text x="282.50" y="133.10" font-size="10.6" fill="#4a78a6">Low</text>
<text x="282.50" y="145.00" font-size="10.6" fill="#4a78a6" textLength="38.80" lengthAdjust="spacingAndGlyphs">disorder</text>
<text x="668.50" y="132.60" font-size="10.6" fill="#f4804f" text-anchor="end">High</text>
<text x="668.50" y="145.00" font-size="10.6" fill="#f4804f" text-anchor="end" textLength="38.80" lengthAdjust="spacingAndGlyphs">disorder</text>
<text x="287.10" y="262.60" font-size="10.6" fill="#4a78a6">Disorder</text>
<text x="287.10" y="274.60" font-size="10.6" fill="#4a78a6" textLength="117.00" lengthAdjust="spacingAndGlyphs">distributed across genes</text>
<text x="673.70" y="262.30" font-size="10.6" fill="#f4804f" text-anchor="end">Disorder</text>
<text x="673.70" y="274.30" font-size="10.6" fill="#f4804f" text-anchor="end" textLength="137.00" lengthAdjust="spacingAndGlyphs">concentrated in fewer genes</text>
<path d="M534.6,122.4 V146.5 H498.3 V282.5" stroke="#5a5a5a" stroke-width="0.75" fill="none"/>
<path d="M542.4,122.4 V164.4" stroke="#5a5a5a" stroke-width="0.75" fill="none"/>
<path d="M530.2,170.7 H524.6 V282.5" stroke="#5a5a5a" stroke-width="0.75" fill="none"/>
<path d="M558.6,122.4 V180.5" stroke="#5a5a5a" stroke-width="0.75" fill="none"/>
<path d="M558.6,191.5 V222.2 H626.4 V265.5" stroke="#5a5a5a" stroke-width="0.75" fill="none"/>
<path d="M588.5,122.4 V205.4 H439.6 V212.5" stroke="#5a5a5a" stroke-width="0.75" fill="none"/>
<path d="M439.6,224.5 V282.5" stroke="#5a5a5a" stroke-width="0.75" fill="none"/>
<path d="M593.4,122.4 V187" stroke="#5a5a5a" stroke-width="0.75" fill="none"/>
<path d="M593.4,198 V215.5 H503.2 V282.5" stroke="#5a5a5a" stroke-width="0.75" fill="none"/>
<path d="M653.6,145.8 V219.5 H566.2 V238.6" stroke="#5a5a5a" stroke-width="0.75" fill="none"/>
<path d="M566.2,257.8 V265.7" stroke="#5a5a5a" stroke-width="0.75" fill="none"/>
<path d="M655.3,145.8 V225.4" stroke="#5a5a5a" stroke-width="0.75" fill="none"/>
<path d="M634.6,229.6 H623.4 V265.5" stroke="#5a5a5a" stroke-width="0.75" fill="none"/>
<text x="466.40" y="160.90" font-size="9" fill="#333" textLength="62.00" lengthAdjust="spacingAndGlyphs">Neuroblastoma</text>
<text x="531.90" y="173.70" font-size="9" fill="#333" textLength="23.70" lengthAdjust="spacingAndGlyphs">Ewing</text>
<text x="538.80" y="187.90" font-size="9" fill="#333" textLength="39.90" lengthAdjust="spacingAndGlyphs">BCORmut</text>
<text x="591.00" y="195.40" font-size="9" fill="#333" textLength="59.00" lengthAdjust="spacingAndGlyphs">Osteosarcoma</text>
<text x="422.60" y="220.80" font-size="9" fill="#333" textLength="38.20" lengthAdjust="spacingAndGlyphs">Leukemia</text>
<text x="637.50" y="231.80" font-size="9" fill="#333" textLength="39.50" lengthAdjust="spacingAndGlyphs">Myogenic</text>
<text x="544.00" y="244.90" font-size="9" fill="#333" textLength="50.00" lengthAdjust="spacingAndGlyphs">Mesodermal</text>
<text x="544.00" y="255.50" font-size="9" fill="#333" textLength="58.40" lengthAdjust="spacingAndGlyphs">high stemness</text>
<path d="M273.50,296.00 C274.52,296.17 277.37,296.28 279.60,297.00 C281.83,297.72 284.47,298.65 286.90,300.30 C289.33,301.95 291.77,304.10 294.20,306.90 C296.63,309.70 299.07,313.70 301.50,317.10 C303.93,320.50 306.62,324.38 308.80,327.30 C310.98,330.22 312.90,332.88 314.60,334.60 C316.30,336.32 317.53,337.23 319.00,337.60 C320.47,337.97 321.70,337.78 323.40,336.80 C325.10,335.82 327.25,333.77 329.20,331.70 C331.15,329.63 333.15,326.72 335.10,324.40 C337.05,322.08 338.95,319.87 340.90,317.80 C342.85,315.73 344.62,314.05 346.80,312.00 C348.98,309.95 351.47,307.33 354.00,305.50 C356.53,303.67 359.00,302.25 362.00,301.00 C365.00,299.75 368.17,298.78 372.00,298.00 C375.83,297.22 381.17,296.63 385.00,296.30 C388.83,295.97 393.33,296.05 395.00,296.00 L395.00,296.0 L273.50,296.0 Z" fill="#838383"/>
<path d="M280.00,296.00 C283.33,296.08 293.33,296.20 300.00,296.50 C306.67,296.80 314.17,296.97 320.00,297.80 C325.83,298.63 330.53,299.30 335.00,301.50 C339.47,303.70 343.87,308.40 346.80,311.00 C349.73,313.60 350.42,315.23 352.60,317.10 C354.78,318.97 357.83,320.73 359.90,322.20 C361.97,323.67 362.55,324.32 365.00,325.90 C367.45,327.48 370.57,330.00 374.60,331.70 C378.63,333.40 384.82,335.08 389.20,336.10 C393.58,337.12 397.25,337.68 400.90,337.80 C404.55,337.92 407.45,337.33 411.10,336.80 C414.75,336.27 419.15,335.68 422.80,334.60 C426.45,333.52 428.87,332.00 433.00,330.30 C437.13,328.60 443.10,325.87 447.60,324.40 C452.10,322.93 455.50,322.60 460.00,321.50 C464.50,320.40 469.73,319.27 474.60,317.80 C479.47,316.33 485.18,314.15 489.20,312.70 C493.22,311.25 495.05,310.32 498.70,309.10 C502.35,307.88 506.60,306.55 511.10,305.40 C515.60,304.25 520.83,303.17 525.70,302.20 C530.57,301.23 535.43,300.33 540.30,299.60 C545.17,298.87 549.95,298.30 554.90,297.80 C559.85,297.30 564.98,296.90 570.00,296.60 C575.02,296.30 582.50,296.10 585.00,296.00 L585.00,296.0 L280.00,296.0 Z" fill="rgba(40,130,175,0.83)"/>
<path d="M273.50,296.00 C277.92,296.10 290.75,296.27 300.00,296.60 C309.25,296.93 321.45,297.27 329.00,298.00 C336.55,298.73 340.13,300.13 345.30,301.00 C350.47,301.87 355.12,301.97 360.00,303.20 C364.88,304.43 369.73,306.32 374.60,308.40 C379.47,310.48 384.33,313.03 389.20,315.70 C394.07,318.37 398.93,321.73 403.80,324.40 C408.67,327.07 415.23,330.00 418.40,331.70 C421.57,333.40 420.37,333.62 422.80,334.60 C425.23,335.58 430.08,336.98 433.00,337.60 C435.92,338.22 437.87,338.30 440.30,338.30 C442.73,338.30 444.32,338.22 447.60,337.60 C450.88,336.98 455.50,336.32 460.00,334.60 C464.50,332.88 469.73,329.48 474.60,327.30 C479.47,325.12 485.18,322.95 489.20,321.50 C493.22,320.05 495.05,319.82 498.70,318.60 C502.35,317.38 506.60,315.78 511.10,314.20 C515.60,312.62 520.83,310.68 525.70,309.10 C530.57,307.52 535.42,305.72 540.30,304.70 C545.18,303.68 549.38,303.43 555.00,303.00 C560.62,302.57 567.67,302.18 574.00,302.10 C580.33,302.02 586.67,302.67 593.00,302.50 C599.33,302.33 605.68,301.48 612.00,301.10 C618.32,300.72 624.58,300.52 630.90,300.20 C637.22,299.88 643.88,299.45 649.90,299.20 C655.92,298.95 664.15,298.78 667.00,298.70 L667.00,296.0 L273.50,296.0 Z" fill="rgba(255,100,62,0.78)"/>
<line x1="321.00" y1="293.50" x2="321.00" y2="340.20" stroke="rgba(0,0,0,0.13)" stroke-width="0.9" />
<text x="321.00" y="350.60" font-size="9" fill="#2a2a2a" text-anchor="middle">0.05</text>
<line x1="409.60" y1="293.50" x2="409.60" y2="340.20" stroke="rgba(0,0,0,0.13)" stroke-width="0.9" />
<text x="409.60" y="350.60" font-size="9" fill="#2a2a2a" text-anchor="middle">0.10</text>
<line x1="498.20" y1="293.50" x2="498.20" y2="340.20" stroke="rgba(0,0,0,0.13)" stroke-width="0.9" />
<text x="498.20" y="350.60" font-size="9" fill="#2a2a2a" text-anchor="middle">0.15</text>
<line x1="586.80" y1="293.50" x2="586.80" y2="340.20" stroke="rgba(0,0,0,0.13)" stroke-width="0.9" />
<text x="586.80" y="350.60" font-size="9" fill="#2a2a2a" text-anchor="middle">0.20</text>
<line x1="675.40" y1="293.50" x2="675.40" y2="340.20" stroke="rgba(0,0,0,0.13)" stroke-width="0.9" />
<text x="675.40" y="350.60" font-size="9" fill="#2a2a2a" text-anchor="middle">0.25</text>
<clipPath id="cd"><rect x="260" y="296" width="425" height="16"/></clipPath>
<circle cx="321.9" cy="296.0" r="6.3" fill="#838383" stroke="#fff" stroke-width="1.5" clip-path="url(#cd)"/>
<circle cx="416.2" cy="296.0" r="6.3" fill="#4793b8" stroke="#fff" stroke-width="1.5" clip-path="url(#cd)"/>
<circle cx="447.2" cy="296.0" r="6.3" fill="#ff8a63" stroke="#fff" stroke-width="1.5" clip-path="url(#cd)"/>
<circle cx="614.2" cy="310.6" r="2.8" fill="#838383"/>
<text x="621.40" y="313.60" font-size="9.3" fill="#2a2a2a" textLength="55.70" lengthAdjust="spacingAndGlyphs">Normal tissue</text>
<circle cx="614.2" cy="320.3" r="2.8" fill="#4793b8"/>
<text x="621.40" y="323.30" font-size="9.3" fill="#2a2a2a" textLength="48.80" lengthAdjust="spacingAndGlyphs">Adult tumor</text>
<circle cx="614.2" cy="330.0" r="2.8" fill="#ff8a63"/>
<text x="621.40" y="333.00" font-size="9.3" fill="#2a2a2a" textLength="61.30" lengthAdjust="spacingAndGlyphs">Pediatric tumor</text>
<text x="460.40" y="368.60" font-size="10" fill="#2a2a2a"><tspan font-style="italic">MAD</tspan><tspan font-style="italic" font-size="7.2" dy="2.6">S</tspan></text>
<text x="614.20" y="366.00" font-size="9.9" fill="#2a2a2a"><tspan font-style="italic">P</tspan> = 4.32 × 10<tspan dy="-3.8" font-size="7">−9</tspan></text>
<text x="-0.40" y="405.40" font-size="15" fill="#000" font-weight="bold">c</text>
<text x="258.00" y="408.70" font-size="10.9" fill="#222" text-anchor="middle" textLength="168.60" lengthAdjust="spacingAndGlyphs">Genes by classification importance</text>
<path d="M162.8,422.6 H185.8" stroke="#4a93b8" stroke-width="1.2"/>
<path d="M169.8,422.6 Q174.3,415 178.8,422.6 Z" fill="#4a93b8"/>
<text x="190.90" y="425.80" font-size="10.9" fill="#222" textLength="59.50" lengthAdjust="spacingAndGlyphs">Bottom 90%</text>
<path d="M279.6,422.6 H302.6" stroke="#ff8a65" stroke-width="1.2"/>
<path d="M286.6,422.6 Q291.1,415 295.6,422.6 Z" fill="#ff8a65"/>
<text x="307.70" y="425.80" font-size="10.9" fill="#222" textLength="39.40" lengthAdjust="spacingAndGlyphs">Top 10%</text>
<path d="M190.00,448.60 C191.48,448.52 193.73,448.33 198.90,448.10 C204.07,447.87 214.07,448.18 221.00,447.20 C227.93,446.22 234.48,443.35 240.50,442.20 C246.52,441.05 252.48,440.85 257.10,440.30 C261.72,439.75 265.42,439.23 268.20,438.90 C270.98,438.57 271.48,438.07 273.80,438.30 C276.12,438.53 278.40,439.52 282.10,440.30 C285.80,441.08 290.45,441.77 296.00,443.00 C301.55,444.23 311.07,446.77 315.40,447.70 C319.73,448.63 320.90,448.45 322.00,448.60 L322.00,448.60 L190.00,448.60 Z" fill="#ff8a65" stroke="#fff" stroke-width="0.5"/>
<path d="M195.00,448.60 C197.95,448.45 207.43,448.63 212.70,447.70 C217.97,446.77 221.97,444.93 226.60,443.00 C231.23,441.07 236.33,437.72 240.50,436.10 C244.67,434.48 247.90,433.53 251.60,433.30 C255.30,433.07 259.00,433.77 262.70,434.70 C266.40,435.63 270.10,436.98 273.80,438.90 C277.50,440.82 281.37,444.72 284.90,446.20 C288.43,447.68 292.15,447.40 295.00,447.80 C297.85,448.20 300.83,448.47 302.00,448.60 L302.00,448.60 L195.00,448.60 Z" fill="rgba(34,125,161,0.82)" stroke="#fff" stroke-width="0.5"/>
<clipPath id="cc0"><rect x="160" y="440.60" width="240" height="8"/></clipPath>
<circle cx="253.4" cy="448.60" r="4.5" fill="#4a93b8" stroke="#fff" stroke-width="1.7" clip-path="url(#cc0)"/>
<circle cx="261.3" cy="448.60" r="4.5" fill="#ff8a65" stroke="#fff" stroke-width="1.7" clip-path="url(#cc0)"/>
<path d="M200.00,464.40 C202.12,464.22 205.95,464.32 212.70,463.30 C219.45,462.28 232.17,459.68 240.50,458.30 C248.83,456.92 256.70,455.78 262.70,455.00 C268.70,454.22 271.88,453.98 276.50,453.60 C281.12,453.22 285.77,452.38 290.40,452.70 C295.03,453.02 298.75,454.33 304.30,455.50 C309.85,456.67 315.85,458.40 323.70,459.70 C331.55,461.00 344.47,462.62 351.40,463.30 C358.33,463.98 362.20,463.62 365.30,463.80 C368.40,463.98 369.22,464.30 370.00,464.40 L370.00,464.40 L200.00,464.40 Z" fill="#ff8a65" stroke="#fff" stroke-width="0.5"/>
<path d="M195.00,464.40 C197.03,463.90 201.93,463.05 207.20,461.40 C212.47,459.75 221.05,456.48 226.60,454.50 C232.15,452.52 236.80,450.52 240.50,449.50 C244.20,448.48 245.10,448.25 248.80,448.40 C252.50,448.55 258.53,449.38 262.70,450.40 C266.87,451.42 271.03,453.12 273.80,454.50 C276.57,455.88 277.27,457.38 279.30,458.70 C281.33,460.02 282.55,461.58 286.00,462.40 C289.45,463.22 296.33,463.27 300.00,463.60 C303.67,463.93 306.67,464.27 308.00,464.40 L308.00,464.40 L195.00,464.40 Z" fill="rgba(34,125,161,0.82)" stroke="#fff" stroke-width="0.5"/>
<clipPath id="cc1"><rect x="160" y="456.40" width="240" height="8"/></clipPath>
<circle cx="254.6" cy="464.40" r="4.5" fill="#4a93b8" stroke="#fff" stroke-width="1.7" clip-path="url(#cc1)"/>
<circle cx="282.6" cy="464.40" r="4.5" fill="#ff8a65" stroke="#fff" stroke-width="1.7" clip-path="url(#cc1)"/>
<path d="M225.00,480.20 C227.58,479.78 235.15,478.58 240.50,477.70 C245.85,476.82 251.55,475.82 257.10,474.90 C262.65,473.98 268.72,472.43 273.80,472.20 C278.88,471.97 282.98,472.82 287.60,473.50 C292.22,474.18 296.87,475.37 301.50,476.30 C306.13,477.23 311.98,478.45 315.40,479.10 C318.82,479.75 320.90,480.02 322.00,480.20 L322.00,480.20 L225.00,480.20 Z" fill="#ff8a65" stroke="#fff" stroke-width="0.5"/>
<path d="M205.00,480.20 C207.67,480.02 215.08,480.43 221.00,479.10 C226.92,477.77 234.95,474.28 240.50,472.20 C246.05,470.12 251.07,467.77 254.30,466.60 C257.53,465.43 257.58,464.97 259.90,465.20 C262.22,465.43 265.43,466.38 268.20,468.00 C270.97,469.62 273.53,473.17 276.50,474.90 C279.47,476.63 282.42,477.62 286.00,478.40 C289.58,479.18 295.00,479.30 298.00,479.60 C301.00,479.90 303.00,480.10 304.00,480.20 L304.00,480.20 L205.00,480.20 Z" fill="rgba(34,125,161,0.82)" stroke="#fff" stroke-width="0.5"/>
<clipPath id="cc2"><rect x="160" y="472.20" width="240" height="8"/></clipPath>
<circle cx="257" cy="480.20" r="4.5" fill="#4a93b8" stroke="#fff" stroke-width="1.7" clip-path="url(#cc2)"/>
<circle cx="261.3" cy="480.20" r="4.5" fill="#ff8a65" stroke="#fff" stroke-width="1.7" clip-path="url(#cc2)"/>
<path d="M210.00,496.00 C211.83,495.83 216.83,495.63 221.00,495.00 C225.17,494.37 230.83,493.37 235.00,492.20 C239.17,491.03 242.78,489.38 246.00,488.00 C249.22,486.62 251.52,484.95 254.30,483.90 C257.08,482.85 259.00,482.27 262.70,481.70 C266.40,481.13 272.80,480.50 276.50,480.50 C280.20,480.50 281.65,480.68 284.90,481.70 C288.15,482.72 291.82,484.88 296.00,486.60 C300.18,488.32 305.17,490.60 310.00,492.00 C314.83,493.40 321.33,494.33 325.00,495.00 C328.67,495.67 330.83,495.83 332.00,496.00 L332.00,496.00 L210.00,496.00 Z" fill="#ff8a65" stroke="#fff" stroke-width="0.5"/>
<path d="M185.00,496.00 C186.38,495.92 188.68,496.13 193.30,495.50 C197.92,494.87 207.15,493.58 212.70,492.20 C218.25,490.82 221.97,488.13 226.60,487.20 C231.23,486.27 236.33,486.60 240.50,486.60 C244.67,486.60 247.90,487.65 251.60,487.20 C255.30,486.75 258.55,484.68 262.70,483.90 C266.85,483.12 271.88,482.50 276.50,482.50 C281.12,482.50 286.23,482.98 290.40,483.90 C294.57,484.82 297.33,486.62 301.50,488.00 C305.67,489.38 310.78,491.03 315.40,492.20 C320.02,493.37 325.93,494.37 329.20,495.00 C332.47,495.63 334.03,495.83 335.00,496.00 L335.00,496.00 L185.00,496.00 Z" fill="rgba(34,125,161,0.82)" stroke="#fff" stroke-width="0.5"/>
<clipPath id="cc3"><rect x="160" y="488.00" width="240" height="8"/></clipPath>
<circle cx="270" cy="496.00" r="4.5" fill="#4a93b8" stroke="#fff" stroke-width="1.7" clip-path="url(#cc3)"/>
<circle cx="273" cy="496.00" r="4.5" fill="#ff8a65" stroke="#fff" stroke-width="1.7" clip-path="url(#cc3)"/>
<path d="M215.00,511.80 C216.93,511.53 220.97,510.93 226.60,510.20 C232.23,509.47 241.87,508.55 248.80,507.40 C255.73,506.25 262.65,504.45 268.20,503.30 C273.75,502.15 277.47,500.73 282.10,500.50 C286.73,500.27 291.38,501.20 296.00,501.90 C300.62,502.60 305.18,503.82 309.80,504.70 C314.42,505.58 319.07,506.98 323.70,507.20 C328.33,507.42 332.98,506.33 337.60,506.00 C342.22,505.67 346.55,505.30 351.40,505.20 C356.25,505.10 364.15,505.37 366.70,505.40 L366.70,511.80 L215.00,511.80 Z" fill="#ff8a65" stroke="#fff" stroke-width="0.5"/>
<path d="M195.00,511.80 C196.10,511.67 198.65,511.97 201.60,511.00 C204.55,510.03 208.53,507.83 212.70,506.00 C216.87,504.17 222.43,501.47 226.60,500.00 C230.77,498.53 234.00,497.58 237.70,497.20 C241.40,496.82 244.63,497.23 248.80,497.70 C252.97,498.17 258.08,499.30 262.70,500.00 C267.32,500.70 271.88,500.90 276.50,501.90 C281.12,502.90 286.23,504.75 290.40,506.00 C294.57,507.25 297.40,508.57 301.50,509.40 C305.60,510.23 311.58,510.60 315.00,511.00 C318.42,511.40 320.83,511.67 322.00,511.80 L322.00,511.80 L195.00,511.80 Z" fill="rgba(34,125,161,0.82)" stroke="#fff" stroke-width="0.5"/>
<clipPath id="cc4"><rect x="160" y="503.80" width="240" height="8"/></clipPath>
<circle cx="255.5" cy="511.80" r="4.5" fill="#4a93b8" stroke="#fff" stroke-width="1.7" clip-path="url(#cc4)"/>
<circle cx="297.2" cy="511.80" r="4.5" fill="#ff8a65" stroke="#fff" stroke-width="1.7" clip-path="url(#cc4)"/>
<path d="M225.00,527.60 C227.58,527.25 235.15,526.32 240.50,525.50 C245.85,524.68 252.48,523.75 257.10,522.70 C261.72,521.65 264.50,519.78 268.20,519.20 C271.90,518.62 274.67,518.75 279.30,519.20 C283.93,519.65 290.92,521.12 296.00,521.90 C301.08,522.68 304.27,523.20 309.80,523.90 C315.33,524.60 323.18,525.50 329.20,526.10 C335.22,526.70 342.77,527.25 345.90,527.50 C349.03,527.75 347.65,527.58 348.00,527.60 L348.00,527.60 L225.00,527.60 Z" fill="#ff8a65" stroke="#fff" stroke-width="0.5"/>
<path d="M210.00,527.60 C211.38,527.45 214.60,527.65 218.30,526.70 C222.00,525.75 228.03,523.58 232.20,521.90 C236.37,520.22 240.07,517.98 243.30,516.60 C246.53,515.22 248.83,514.18 251.60,513.60 C254.37,513.02 257.13,512.60 259.90,513.10 C262.67,513.60 265.43,514.90 268.20,516.60 C270.97,518.30 273.53,521.72 276.50,523.30 C279.47,524.88 282.42,525.47 286.00,526.10 C289.58,526.73 295.17,526.85 298.00,527.10 C300.83,527.35 302.17,527.52 303.00,527.60 L303.00,527.60 L210.00,527.60 Z" fill="rgba(34,125,161,0.82)" stroke="#fff" stroke-width="0.5"/>
<clipPath id="cc5"><rect x="160" y="519.60" width="240" height="8"/></clipPath>
<circle cx="261.9" cy="527.60" r="4.5" fill="#4a93b8" stroke="#fff" stroke-width="1.7" clip-path="url(#cc5)"/>
<circle cx="275.4" cy="527.60" r="4.5" fill="#ff8a65" stroke="#fff" stroke-width="1.7" clip-path="url(#cc5)"/>
<path d="M185.00,543.40 C185.92,543.28 183.00,542.87 190.50,542.70 C198.00,542.53 219.37,542.55 230.00,542.40 C240.63,542.25 247.93,542.20 254.30,541.80 C260.67,541.40 263.57,540.68 268.20,540.00 C272.83,539.32 277.47,538.40 282.10,537.70 C286.73,537.00 291.85,535.98 296.00,535.80 C300.15,535.62 302.38,536.13 307.00,536.60 C311.62,537.07 318.15,537.80 323.70,538.60 C329.25,539.40 335.22,540.72 340.30,541.40 C345.38,542.08 351.25,542.37 354.20,542.70 C357.15,543.03 357.37,543.28 358.00,543.40 L358.00,543.40 L185.00,543.40 Z" fill="#ff8a65" stroke="#fff" stroke-width="0.5"/>
<path d="M205.00,543.40 C206.75,543.20 211.90,543.23 215.50,542.20 C219.10,541.17 223.37,539.18 226.60,537.20 C229.83,535.22 232.12,531.78 234.90,530.30 C237.68,528.82 240.52,528.30 243.30,528.30 C246.08,528.30 248.37,529.05 251.60,530.30 C254.83,531.55 259.00,534.28 262.70,535.80 C266.40,537.32 270.10,538.47 273.80,539.40 C277.50,540.33 280.87,540.85 284.90,541.40 C288.93,541.95 294.65,542.37 298.00,542.70 C301.35,543.03 303.83,543.28 305.00,543.40 L305.00,543.40 L205.00,543.40 Z" fill="rgba(34,125,161,0.82)" stroke="#fff" stroke-width="0.5"/>
<clipPath id="cc6"><rect x="160" y="535.40" width="240" height="8"/></clipPath>
<circle cx="245.8" cy="543.40" r="4.5" fill="#4a93b8" stroke="#fff" stroke-width="1.7" clip-path="url(#cc6)"/>
<circle cx="297.2" cy="543.40" r="4.5" fill="#ff8a65" stroke="#fff" stroke-width="1.7" clip-path="url(#cc6)"/>
<path d="M180.00,559.20 C180.83,559.13 179.55,559.23 185.00,558.80 C190.45,558.37 203.45,557.20 212.70,556.60 C221.95,556.00 232.17,555.88 240.50,555.20 C248.83,554.52 257.15,553.05 262.70,552.50 C268.25,551.95 269.18,551.90 273.80,551.90 C278.42,551.90 284.87,551.95 290.40,552.50 C295.93,553.05 301.45,554.28 307.00,555.20 C312.55,556.12 319.87,557.33 323.70,558.00 C327.53,558.67 328.95,559.00 330.00,559.20 L330.00,559.20 L180.00,559.20 Z" fill="#ff8a65" stroke="#fff" stroke-width="0.5"/>
<path d="M205.00,559.20 C206.28,559.00 209.57,559.82 212.70,558.00 C215.83,556.18 220.55,550.62 223.80,548.30 C227.05,545.98 229.42,544.57 232.20,544.10 C234.98,543.63 237.27,544.33 240.50,545.50 C243.73,546.67 247.90,549.48 251.60,551.10 C255.30,552.72 259.47,554.18 262.70,555.20 C265.93,556.22 267.28,556.70 271.00,557.20 C274.72,557.70 280.50,557.87 285.00,558.20 C289.50,558.53 295.83,559.03 298.00,559.20 L298.00,559.20 L205.00,559.20 Z" fill="rgba(34,125,161,0.82)" stroke="#fff" stroke-width="0.5"/>
<clipPath id="cc7"><rect x="160" y="551.20" width="240" height="8"/></clipPath>
<circle cx="239.4" cy="559.20" r="4.5" fill="#4a93b8" stroke="#fff" stroke-width="1.7" clip-path="url(#cc7)"/>
<circle cx="262.9" cy="559.20" r="4.5" fill="#ff8a65" stroke="#fff" stroke-width="1.7" clip-path="url(#cc7)"/>
<path d="M250.00,575.00 C253.03,574.48 262.85,572.88 268.20,571.90 C273.55,570.92 277.47,569.88 282.10,569.10 C286.73,568.32 291.38,567.67 296.00,567.20 C300.62,566.73 305.18,566.30 309.80,566.30 C314.42,566.30 318.62,566.50 323.70,567.20 C328.78,567.90 335.22,569.40 340.30,570.50 C345.38,571.60 351.25,573.05 354.20,573.80 C357.15,574.55 357.37,574.80 358.00,575.00 L358.00,575.00 L250.00,575.00 Z" fill="#ff8a65" stroke="#fff" stroke-width="0.5"/>
<path d="M205.00,575.00 C206.28,574.72 209.10,574.97 212.70,573.30 C216.30,571.63 221.97,567.18 226.60,565.00 C231.23,562.82 236.80,561.13 240.50,560.20 C244.20,559.27 245.57,558.85 248.80,559.40 C252.03,559.95 256.20,561.88 259.90,563.50 C263.60,565.12 267.30,567.65 271.00,569.10 C274.70,570.55 278.10,571.48 282.10,572.20 C286.10,572.92 291.52,572.93 295.00,573.40 C298.48,573.87 301.67,574.73 303.00,575.00 L303.00,575.00 L205.00,575.00 Z" fill="rgba(34,125,161,0.82)" stroke="#fff" stroke-width="0.5"/>
<clipPath id="cc8"><rect x="160" y="567.00" width="240" height="8"/></clipPath>
<circle cx="245.8" cy="575.00" r="4.5" fill="#4a93b8" stroke="#fff" stroke-width="1.7" clip-path="url(#cc8)"/>
<circle cx="307.8" cy="575.00" r="4.5" fill="#ff8a65" stroke="#fff" stroke-width="1.7" clip-path="url(#cc8)"/>
<path d="M180.00,590.80 C180.83,590.75 178.33,590.75 185.00,590.50 C191.67,590.25 210.83,589.75 220.00,589.30 C229.17,588.85 233.35,588.15 240.00,587.80 C246.65,587.45 253.82,587.53 259.90,587.20 C265.98,586.87 270.48,585.90 276.50,585.80 C282.52,585.70 289.05,586.13 296.00,586.60 C302.95,587.07 310.35,587.95 318.20,588.60 C326.05,589.25 338.47,590.13 343.10,590.50 C347.73,590.87 345.52,590.75 346.00,590.80 L346.00,590.80 L180.00,590.80 Z" fill="#ff8a65" stroke="#fff" stroke-width="0.5"/>
<path d="M205.00,590.80 C206.75,590.67 211.90,591.30 215.50,590.00 C219.10,588.70 223.82,584.95 226.60,583.00 C229.38,581.05 230.35,579.45 232.20,578.30 C234.05,577.15 235.85,576.10 237.70,576.10 C239.55,576.10 240.98,577.15 243.30,578.30 C245.62,579.45 248.37,581.62 251.60,583.00 C254.83,584.38 259.00,585.63 262.70,586.60 C266.40,587.57 269.25,588.20 273.80,588.80 C278.35,589.40 286.30,589.87 290.00,590.20 C293.70,590.53 295.00,590.70 296.00,590.80 L296.00,590.80 L205.00,590.80 Z" fill="rgba(34,125,161,0.82)" stroke="#fff" stroke-width="0.5"/>
<clipPath id="cc9"><rect x="160" y="582.80" width="240" height="8"/></clipPath>
<circle cx="240.4" cy="590.80" r="4.5" fill="#4a93b8" stroke="#fff" stroke-width="1.7" clip-path="url(#cc9)"/>
<circle cx="272.5" cy="590.80" r="4.5" fill="#ff8a65" stroke="#fff" stroke-width="1.7" clip-path="url(#cc9)"/>
<path d="M215.00,606.60 C216.93,606.13 220.97,604.95 226.60,603.80 C232.23,602.65 242.78,600.85 248.80,599.70 C254.82,598.55 259.47,597.37 262.70,596.90 C265.93,596.43 265.43,596.77 268.20,596.90 C270.97,597.03 274.67,597.00 279.30,597.70 C283.93,598.40 290.92,600.17 296.00,601.10 C301.08,602.03 305.18,602.62 309.80,603.30 C314.42,603.98 320.33,604.65 323.70,605.20 C327.07,605.75 328.95,606.37 330.00,606.60 L330.00,606.60 L215.00,606.60 Z" fill="#ff8a65" stroke="#fff" stroke-width="0.5"/>
<path d="M195.00,606.60 C196.10,606.50 197.72,607.15 201.60,606.00 C205.48,604.85 213.20,601.68 218.30,599.70 C223.40,597.72 227.58,595.40 232.20,594.10 C236.82,592.80 241.85,592.35 246.00,591.90 C250.15,591.45 253.87,590.80 257.10,591.40 C260.33,592.00 262.62,593.88 265.40,595.50 C268.18,597.12 271.02,599.58 273.80,601.10 C276.58,602.62 278.40,603.80 282.10,604.60 C285.80,605.40 292.68,605.57 296.00,605.90 C299.32,606.23 301.00,606.48 302.00,606.60 L302.00,606.60 L195.00,606.60 Z" fill="rgba(34,125,161,0.82)" stroke="#fff" stroke-width="0.5"/>
<clipPath id="cc10"><rect x="160" y="598.60" width="240" height="8"/></clipPath>
<circle cx="251.3" cy="606.60" r="4.5" fill="#4a93b8" stroke="#fff" stroke-width="1.7" clip-path="url(#cc10)"/>
<circle cx="264.1" cy="606.60" r="4.5" fill="#ff8a65" stroke="#fff" stroke-width="1.7" clip-path="url(#cc10)"/>
<path d="M180.00,622.40 C180.83,622.32 181.85,622.47 185.00,621.90 C188.15,621.33 194.28,619.78 198.90,619.00 C203.52,618.22 205.85,617.55 212.70,617.20 C219.55,616.85 230.45,616.87 240.00,616.90 C249.55,616.93 262.98,617.27 270.00,617.40 C277.02,617.53 277.77,617.43 282.10,617.70 C286.43,617.97 291.85,618.30 296.00,619.00 C300.15,619.70 304.67,621.33 307.00,621.90 C309.33,622.47 309.50,622.32 310.00,622.40 L310.00,622.40 L180.00,622.40 Z" fill="#ff8a65" stroke="#fff" stroke-width="0.5"/>
<path d="M205.00,622.40 C206.28,622.18 210.03,621.42 212.70,621.10 C215.37,620.78 218.22,621.43 221.00,620.50 C223.78,619.57 226.15,616.80 229.40,615.50 C232.65,614.20 236.35,613.48 240.50,612.70 C244.65,611.92 250.60,611.72 254.30,610.80 C258.00,609.88 259.92,607.35 262.70,607.20 C265.48,607.05 267.77,608.38 271.00,609.90 C274.23,611.42 278.87,614.53 282.10,616.30 C285.33,618.07 287.42,619.58 290.40,620.50 C293.38,621.42 297.57,621.48 300.00,621.80 C302.43,622.12 304.17,622.30 305.00,622.40 L305.00,622.40 L205.00,622.40 Z" fill="rgba(34,125,161,0.82)" stroke="#fff" stroke-width="0.5"/>
<clipPath id="cc11"><rect x="160" y="614.40" width="240" height="8"/></clipPath>
<circle cx="250.4" cy="622.40" r="4.5" fill="#4a93b8" stroke="#fff" stroke-width="1.7" clip-path="url(#cc11)"/>
<circle cx="251.8" cy="622.40" r="4.5" fill="#ff8a65" stroke="#fff" stroke-width="1.7" clip-path="url(#cc11)"/>
<path d="M180.00,638.20 C180.83,638.12 179.55,638.15 185.00,637.70 C190.45,637.25 203.45,636.42 212.70,635.50 C221.95,634.58 233.10,633.12 240.50,632.20 C247.90,631.28 252.18,630.25 257.10,630.00 C262.02,629.75 265.83,630.10 270.00,630.70 C274.17,631.30 277.77,632.80 282.10,633.60 C286.43,634.40 291.38,634.82 296.00,635.50 C300.62,636.18 306.97,637.25 309.80,637.70 C312.63,638.15 312.47,638.12 313.00,638.20 L313.00,638.20 L180.00,638.20 Z" fill="#ff8a65" stroke="#fff" stroke-width="0.5"/>
<path d="M210.00,638.20 C211.38,638.03 214.60,638.43 218.30,637.20 C222.00,635.97 228.03,632.57 232.20,630.80 C236.37,629.03 239.62,627.75 243.30,626.60 C246.98,625.45 251.07,624.58 254.30,623.90 C257.53,623.22 259.92,622.27 262.70,622.50 C265.48,622.73 268.23,623.68 271.00,625.30 C273.77,626.92 276.53,630.30 279.30,632.20 C282.07,634.10 284.48,635.78 287.60,636.70 C290.72,637.62 295.60,637.45 298.00,637.70 C300.40,637.95 301.33,638.12 302.00,638.20 L302.00,638.20 L210.00,638.20 Z" fill="rgba(34,125,161,0.82)" stroke="#fff" stroke-width="0.5"/>
<clipPath id="cc12"><rect x="160" y="630.20" width="240" height="8"/></clipPath>
<circle cx="251.8" cy="638.20" r="4.5" fill="#4a93b8" stroke="#fff" stroke-width="1.7" clip-path="url(#cc12)"/>
<circle cx="255.3" cy="638.20" r="4.5" fill="#ff8a65" stroke="#fff" stroke-width="1.7" clip-path="url(#cc12)"/>
<path d="M215.00,654.00 C216.88,653.62 222.97,652.52 226.30,651.70 C229.63,650.88 231.50,649.97 235.00,649.10 C238.50,648.23 242.92,647.23 247.30,646.50 C251.68,645.77 256.92,645.20 261.30,644.70 C265.68,644.20 268.75,643.65 273.60,643.50 C278.45,643.35 285.28,643.37 290.40,643.80 C295.52,644.23 299.67,645.03 304.30,646.10 C308.93,647.17 314.50,648.92 318.20,650.20 C321.90,651.48 324.53,653.17 326.50,653.80 C328.47,654.43 329.42,653.97 330.00,654.00 L330.00,654.00 L215.00,654.00 Z" fill="#ff8a65" stroke="#fff" stroke-width="0.5"/>
<path d="M205.00,654.00 C206.28,653.97 209.57,654.67 212.70,653.80 C215.83,652.93 220.10,650.55 223.80,648.80 C227.50,647.05 231.20,644.70 234.90,643.30 C238.60,641.90 242.65,641.03 246.00,640.40 C249.35,639.77 252.33,639.62 255.00,639.50 C257.67,639.38 259.33,639.30 262.00,639.70 C264.67,640.10 268.12,640.93 271.00,641.90 C273.88,642.87 276.80,643.98 279.30,645.50 C281.80,647.02 284.05,649.67 286.00,651.00 C287.95,652.33 289.67,653.00 291.00,653.50 C292.33,654.00 293.50,653.92 294.00,654.00 L294.00,654.00 L205.00,654.00 Z" fill="rgba(34,125,161,0.82)" stroke="#fff" stroke-width="0.5"/>
<clipPath id="cc13"><rect x="160" y="646.00" width="240" height="8"/></clipPath>
<circle cx="255.3" cy="654.00" r="4.5" fill="#4a93b8" stroke="#fff" stroke-width="1.7" clip-path="url(#cc13)"/>
<circle cx="282" cy="654.00" r="4.5" fill="#ff8a65" stroke="#fff" stroke-width="1.7" clip-path="url(#cc13)"/>
<path d="M185.00,669.80 C187.32,669.77 194.28,670.08 198.90,669.60 C203.52,669.12 208.13,667.75 212.70,666.90 C217.27,666.05 221.12,665.53 226.30,664.50 C231.48,663.47 237.97,661.57 243.80,660.70 C249.63,659.83 255.38,659.18 261.30,659.30 C267.22,659.42 273.52,660.58 279.30,661.40 C285.08,662.22 290.38,663.13 296.00,664.20 C301.62,665.27 310.17,667.20 313.00,667.80 L313.00,669.80 L185.00,669.80 Z" fill="#ff8a65" stroke="#fff" stroke-width="0.5"/>
<path d="M205.00,669.80 C206.28,669.55 209.10,669.72 212.70,668.30 C216.30,666.88 221.97,663.15 226.60,661.30 C231.23,659.45 235.42,658.12 240.50,657.20 C245.58,656.28 251.55,655.58 257.10,655.80 C262.65,656.02 269.63,657.35 273.80,658.50 C277.97,659.65 279.33,661.15 282.10,662.70 C284.87,664.25 287.42,666.72 290.40,667.80 C293.38,668.88 297.73,668.87 300.00,669.20 C302.27,669.53 303.33,669.70 304.00,669.80 L304.00,669.80 L205.00,669.80 Z" fill="rgba(34,125,161,0.82)" stroke="#fff" stroke-width="0.5"/>
<clipPath id="cc14"><rect x="160" y="661.80" width="240" height="8"/></clipPath>
<circle cx="250.4" cy="669.80" r="4.5" fill="#4a93b8" stroke="#fff" stroke-width="1.7" clip-path="url(#cc14)"/>
<circle cx="259.9" cy="669.80" r="4.5" fill="#ff8a65" stroke="#fff" stroke-width="1.7" clip-path="url(#cc14)"/>
<path d="M205.00,685.60 C208.60,685.27 218.38,684.63 226.60,683.60 C234.82,682.57 246.43,680.78 254.30,679.40 C262.17,678.02 269.17,675.98 273.80,675.30 C278.43,674.62 278.40,674.98 282.10,675.30 C285.80,675.62 290.92,676.42 296.00,677.20 C301.08,677.98 306.60,678.80 312.60,680.00 C318.60,681.20 328.77,683.67 332.00,684.40 L332.00,685.60 L205.00,685.60 Z" fill="#ff8a65" stroke="#fff" stroke-width="0.5"/>
<path d="M200.00,685.60 C201.20,685.50 203.70,686.03 207.20,685.00 C210.70,683.97 216.38,681.25 221.00,679.40 C225.62,677.55 229.80,675.18 234.90,673.90 C240.00,672.62 246.52,672.17 251.60,671.70 C256.68,671.23 262.17,670.97 265.40,671.10 C268.63,671.23 268.68,671.35 271.00,672.50 C273.32,673.65 276.53,676.07 279.30,678.00 C282.07,679.93 284.48,682.92 287.60,684.10 C290.72,685.28 295.60,684.85 298.00,685.10 C300.40,685.35 301.33,685.52 302.00,685.60 L302.00,685.60 L200.00,685.60 Z" fill="rgba(34,125,161,0.82)" stroke="#fff" stroke-width="0.5"/>
<clipPath id="cc15"><rect x="160" y="677.60" width="240" height="8"/></clipPath>
<circle cx="255.3" cy="685.60" r="4.5" fill="#4a93b8" stroke="#fff" stroke-width="1.7" clip-path="url(#cc15)"/>
<circle cx="275.6" cy="685.60" r="4.5" fill="#ff8a65" stroke="#fff" stroke-width="1.7" clip-path="url(#cc15)"/>
<path d="M215.00,701.40 C217.50,701.15 222.50,700.32 230.00,699.90 C237.50,699.48 252.25,699.08 260.00,698.90 C267.75,698.72 270.50,699.05 276.50,698.80 C282.50,698.55 289.98,697.63 296.00,697.40 C302.02,697.17 307.52,696.93 312.60,697.40 C317.68,697.87 323.60,699.53 326.50,700.20 C329.40,700.87 329.42,701.20 330.00,701.40 L330.00,701.40 L215.00,701.40 Z" fill="#ff8a65" stroke="#fff" stroke-width="0.5"/>
<path d="M215.00,701.40 C216.00,701.20 218.13,701.32 221.00,700.20 C223.87,699.08 228.95,696.55 232.20,694.70 C235.45,692.85 238.20,690.48 240.50,689.10 C242.80,687.72 244.15,686.63 246.00,686.40 C247.85,686.17 249.28,686.55 251.60,687.70 C253.92,688.85 256.67,691.45 259.90,693.30 C263.13,695.15 267.30,697.62 271.00,698.80 C274.70,699.98 278.60,699.97 282.10,700.40 C285.60,700.83 290.35,701.23 292.00,701.40 L292.00,701.40 L215.00,701.40 Z" fill="rgba(34,125,161,0.82)" stroke="#fff" stroke-width="0.5"/>
<clipPath id="cc16"><rect x="160" y="693.40" width="240" height="8"/></clipPath>
<circle cx="246.9" cy="701.40" r="4.5" fill="#4a93b8" stroke="#fff" stroke-width="1.7" clip-path="url(#cc16)"/>
<circle cx="279.1" cy="701.40" r="4.5" fill="#ff8a65" stroke="#fff" stroke-width="1.7" clip-path="url(#cc16)"/>
<path d="M175.00,717.20 C176.67,717.15 180.57,717.65 185.00,716.90 C189.43,716.15 196.98,713.85 201.60,712.70 C206.22,711.55 207.13,710.50 212.70,710.00 C218.27,709.50 227.95,709.50 235.00,709.70 C242.05,709.90 249.47,710.70 255.00,711.20 C260.53,711.70 262.30,712.22 268.20,712.70 C274.10,713.18 283.00,713.40 290.40,714.10 C297.80,714.80 308.33,716.38 312.60,716.90 C316.87,717.42 315.43,717.15 316.00,717.20 L316.00,717.20 L175.00,717.20 Z" fill="#ff8a65" stroke="#fff" stroke-width="0.5"/>
<path d="M200.00,717.20 C201.20,717.15 204.15,717.88 207.20,716.90 C210.25,715.92 214.60,713.38 218.30,711.30 C222.00,709.22 225.70,706.02 229.40,704.40 C233.10,702.78 236.80,701.60 240.50,701.60 C244.20,701.60 247.90,703.00 251.60,704.40 C255.30,705.80 259.00,708.38 262.70,710.00 C266.40,711.62 270.08,713.07 273.80,714.10 C277.52,715.13 281.97,715.68 285.00,716.20 C288.03,716.72 290.83,717.03 292.00,717.20 L292.00,717.20 L200.00,717.20 Z" fill="rgba(34,125,161,0.82)" stroke="#fff" stroke-width="0.5"/>
<clipPath id="cc17"><rect x="160" y="709.20" width="240" height="8"/></clipPath>
<circle cx="238.8" cy="717.20" r="4.5" fill="#4a93b8" stroke="#fff" stroke-width="1.7" clip-path="url(#cc17)"/>
<circle cx="244.1" cy="717.20" r="4.5" fill="#ff8a65" stroke="#fff" stroke-width="1.7" clip-path="url(#cc17)"/>
<path d="M255.00,733.00 C256.28,732.73 258.18,731.90 262.70,731.40 C267.22,730.90 274.25,730.23 282.10,730.00 C289.95,729.77 300.55,730.08 309.80,730.00 C319.05,729.92 330.90,729.67 337.60,729.50 C344.30,729.33 346.93,729.08 350.00,729.00 C353.07,728.92 355.00,729.00 356.00,729.00 L356.00,733.00 L255.00,733.00 Z" fill="#ff8a65" stroke="#fff" stroke-width="0.5"/>
<path d="M205.00,733.00 C206.28,732.95 209.10,733.43 212.70,732.70 C216.30,731.97 222.90,729.98 226.60,728.60 C230.30,727.22 232.12,726.02 234.90,724.40 C237.68,722.78 240.98,719.92 243.30,718.90 C245.62,717.88 246.50,717.85 248.80,718.30 C251.10,718.75 253.87,720.12 257.10,721.60 C260.33,723.08 264.50,725.63 268.20,727.20 C271.90,728.77 275.33,730.13 279.30,731.00 C283.27,731.87 288.88,732.07 292.00,732.40 C295.12,732.73 297.00,732.90 298.00,733.00 L298.00,733.00 L205.00,733.00 Z" fill="rgba(34,125,161,0.82)" stroke="#fff" stroke-width="0.5"/>
<clipPath id="cc18"><rect x="160" y="725.00" width="240" height="8"/></clipPath>
<circle cx="249.3" cy="733.00" r="4.5" fill="#4a93b8" stroke="#fff" stroke-width="1.7" clip-path="url(#cc18)"/>
<circle cx="300.2" cy="733.00" r="4.5" fill="#ff8a65" stroke="#fff" stroke-width="1.7" clip-path="url(#cc18)"/>
<path d="M250.00,748.80 C252.12,747.97 258.73,745.08 262.70,743.80 C266.67,742.52 269.65,741.78 273.80,741.10 C277.95,740.42 282.98,739.70 287.60,739.70 C292.22,739.70 296.87,740.18 301.50,741.10 C306.13,742.02 309.85,743.92 315.40,745.20 C320.95,746.48 331.37,748.20 334.80,748.80 C338.23,749.40 335.80,748.80 336.00,748.80 L336.00,748.80 L250.00,748.80 Z" fill="#ff8a65" stroke="#fff" stroke-width="0.5"/>
<path d="M200.00,748.80 C201.20,748.67 203.70,748.92 207.20,748.00 C210.70,747.08 216.83,745.15 221.00,743.30 C225.17,741.45 228.95,738.43 232.20,736.90 C235.45,735.37 237.27,734.10 240.50,734.10 C243.73,734.10 247.45,735.28 251.60,736.90 C255.75,738.52 261.25,742.07 265.40,743.80 C269.55,745.53 272.40,746.55 276.50,747.30 C280.60,748.05 286.92,748.05 290.00,748.30 C293.08,748.55 294.17,748.72 295.00,748.80 L295.00,748.80 L200.00,748.80 Z" fill="rgba(34,125,161,0.82)" stroke="#fff" stroke-width="0.5"/>
<clipPath id="cc19"><rect x="160" y="740.80" width="240" height="8"/></clipPath>
<circle cx="242.3" cy="748.80" r="4.5" fill="#4a93b8" stroke="#fff" stroke-width="1.7" clip-path="url(#cc19)"/>
<circle cx="286" cy="748.80" r="4.5" fill="#ff8a65" stroke="#fff" stroke-width="1.7" clip-path="url(#cc19)"/>
<path d="M245.00,764.60 C246.67,764.27 251.13,763.42 255.00,762.60 C258.87,761.78 263.68,760.18 268.20,759.70 C272.72,759.22 276.55,759.37 282.10,759.70 C287.65,760.03 294.57,761.10 301.50,761.70 C308.43,762.30 318.15,762.85 323.70,763.30 C329.25,763.75 332.58,764.18 334.80,764.40 C337.02,764.62 336.63,764.57 337.00,764.60 L337.00,764.60 L245.00,764.60 Z" fill="#ff8a65" stroke="#fff" stroke-width="0.5"/>
<path d="M205.00,764.60 C206.28,764.38 209.10,764.68 212.70,763.30 C216.30,761.92 222.43,758.38 226.60,756.30 C230.77,754.22 234.47,751.87 237.70,750.80 C240.93,749.73 242.77,749.45 246.00,749.90 C249.23,750.35 253.40,751.97 257.10,753.50 C260.80,755.03 264.38,757.50 268.20,759.10 C272.02,760.70 276.03,762.27 280.00,763.10 C283.97,763.93 289.17,763.85 292.00,764.10 C294.83,764.35 296.17,764.52 297.00,764.60 L297.00,764.60 L205.00,764.60 Z" fill="rgba(34,125,161,0.82)" stroke="#fff" stroke-width="0.5"/>
<clipPath id="cc20"><rect x="160" y="756.60" width="240" height="8"/></clipPath>
<circle cx="247.6" cy="764.60" r="4.5" fill="#4a93b8" stroke="#fff" stroke-width="1.7" clip-path="url(#cc20)"/>
<circle cx="268.6" cy="764.60" r="4.5" fill="#ff8a65" stroke="#fff" stroke-width="1.7" clip-path="url(#cc20)"/>
<path d="M260.00,780.40 C262.75,779.95 270.50,778.23 276.50,777.70 C282.50,777.17 288.13,777.20 296.00,777.20 C303.87,777.20 314.47,777.38 323.70,777.70 C332.93,778.02 346.08,778.72 351.40,779.10 C356.72,779.48 354.67,779.78 355.60,780.00 C356.53,780.22 356.77,780.33 357.00,780.40 L357.00,780.40 L260.00,780.40 Z" fill="#ff8a65" stroke="#fff" stroke-width="0.5"/>
<path d="M205.00,780.40 C206.28,780.18 209.57,780.23 212.70,779.10 C215.83,777.97 220.55,775.45 223.80,773.60 C227.05,771.75 229.88,769.25 232.20,768.00 C234.52,766.75 235.85,766.10 237.70,766.10 C239.55,766.10 240.53,766.75 243.30,768.00 C246.07,769.25 250.15,771.98 254.30,773.60 C258.45,775.22 263.57,776.73 268.20,777.70 C272.83,778.67 278.13,778.95 282.10,779.40 C286.07,779.85 290.35,780.23 292.00,780.40 L292.00,780.40 L205.00,780.40 Z" fill="rgba(34,125,161,0.82)" stroke="#fff" stroke-width="0.5"/>
<clipPath id="cc21"><rect x="160" y="772.40" width="240" height="8"/></clipPath>
<circle cx="242.3" cy="780.40" r="4.5" fill="#4a93b8" stroke="#fff" stroke-width="1.7" clip-path="url(#cc21)"/>
<circle cx="293.1" cy="780.40" r="4.5" fill="#ff8a65" stroke="#fff" stroke-width="1.7" clip-path="url(#cc21)"/>
<path d="M195.00,796.20 C197.03,796.00 201.93,795.67 207.20,795.00 C212.47,794.33 220.30,793.08 226.60,792.20 C232.90,791.32 239.10,790.37 245.00,789.70 C250.90,789.03 256.75,788.35 262.00,788.20 C267.25,788.05 271.77,788.23 276.50,788.80 C281.23,789.37 284.85,790.77 290.40,791.60 C295.95,792.43 301.93,793.10 309.80,793.80 C317.67,794.50 332.57,795.40 337.60,795.80 C342.63,796.20 339.60,796.13 340.00,796.20 L340.00,796.20 L195.00,796.20 Z" fill="#ff8a65" stroke="#fff" stroke-width="0.5"/>
<path d="M208.00,796.20 C209.25,796.00 212.40,796.23 215.50,795.00 C218.60,793.77 222.90,790.52 226.60,788.80 C230.30,787.08 234.00,785.62 237.70,784.70 C241.40,783.78 245.57,783.77 248.80,783.30 C252.03,782.83 254.78,782.13 257.10,781.90 C259.42,781.67 260.38,781.22 262.70,781.90 C265.02,782.58 268.23,784.38 271.00,786.00 C273.77,787.62 276.53,790.15 279.30,791.60 C282.07,793.05 284.48,794.02 287.60,794.70 C290.72,795.38 295.60,795.45 298.00,795.70 C300.40,795.95 301.33,796.12 302.00,796.20 L302.00,796.20 L208.00,796.20 Z" fill="rgba(34,125,161,0.82)" stroke="#fff" stroke-width="0.5"/>
<clipPath id="cc22"><rect x="160" y="788.20" width="240" height="8"/></clipPath>
<circle cx="252.9" cy="796.20" r="4.5" fill="#4a93b8" stroke="#fff" stroke-width="1.7" clip-path="url(#cc22)"/>
<circle cx="260.6" cy="796.20" r="4.5" fill="#ff8a65" stroke="#fff" stroke-width="1.7" clip-path="url(#cc22)"/>
<path d="M180.00,812.00 C180.83,812.00 177.23,812.20 185.00,812.00 C192.77,811.80 215.97,811.70 226.60,810.80 C237.23,809.90 241.87,807.98 248.80,806.60 C255.73,805.22 263.58,803.42 268.20,802.50 C272.82,801.58 273.27,801.10 276.50,801.10 C279.73,801.10 283.43,801.80 287.60,802.50 C291.77,803.20 296.40,804.23 301.50,805.30 C306.60,806.37 310.80,807.85 318.20,808.90 C325.60,809.95 340.93,811.08 345.90,811.60 C350.87,812.12 347.65,811.93 348.00,812.00 L348.00,812.00 L180.00,812.00 Z" fill="#ff8a65" stroke="#fff" stroke-width="0.5"/>
<path d="M200.00,812.00 C201.20,811.93 203.70,812.50 207.20,811.60 C210.70,810.70 216.83,808.12 221.00,806.60 C225.17,805.08 228.03,803.52 232.20,802.50 C236.37,801.48 241.38,801.10 246.00,800.50 C250.62,799.90 255.73,799.35 259.90,798.90 C264.07,798.45 267.77,797.43 271.00,797.80 C274.23,798.17 276.53,799.63 279.30,801.10 C282.07,802.57 284.82,805.03 287.60,806.60 C290.38,808.17 292.93,809.68 296.00,810.50 C299.07,811.32 303.67,811.25 306.00,811.50 C308.33,811.75 309.33,811.92 310.00,812.00 L310.00,812.00 L200.00,812.00 Z" fill="rgba(34,125,161,0.82)" stroke="#fff" stroke-width="0.5"/>
<clipPath id="cc23"><rect x="160" y="804.00" width="240" height="8"/></clipPath>
<circle cx="258.8" cy="812.00" r="4.5" fill="#4a93b8" stroke="#fff" stroke-width="1.7" clip-path="url(#cc23)"/>
<circle cx="270.4" cy="812.00" r="4.5" fill="#ff8a65" stroke="#fff" stroke-width="1.7" clip-path="url(#cc23)"/>
<path d="M255.00,827.80 C256.28,827.28 259.12,825.55 262.70,824.70 C266.28,823.85 270.95,823.17 276.50,822.70 C282.05,822.23 289.98,821.72 296.00,821.90 C302.02,822.08 305.67,822.88 312.60,823.80 C319.53,824.72 333.03,826.73 337.60,827.40 C342.17,828.07 339.60,827.73 340.00,827.80 L340.00,827.80 L255.00,827.80 Z" fill="#ff8a65" stroke="#fff" stroke-width="0.5"/>
<path d="M205.00,827.80 C206.28,827.60 209.57,827.82 212.70,826.60 C215.83,825.38 220.78,822.43 223.80,820.50 C226.82,818.57 228.95,816.25 230.80,815.00 C232.65,813.75 233.28,813.00 234.90,813.00 C236.52,813.00 238.18,813.75 240.50,815.00 C242.82,816.25 245.57,818.88 248.80,820.50 C252.03,822.12 256.20,823.73 259.90,824.70 C263.60,825.67 266.82,825.87 271.00,826.30 C275.18,826.73 281.83,827.05 285.00,827.30 C288.17,827.55 289.17,827.72 290.00,827.80 L290.00,827.80 L205.00,827.80 Z" fill="rgba(34,125,161,0.82)" stroke="#fff" stroke-width="0.5"/>
<clipPath id="cc24"><rect x="160" y="819.80" width="240" height="8"/></clipPath>
<circle cx="240.6" cy="827.80" r="4.5" fill="#4a93b8" stroke="#fff" stroke-width="1.7" clip-path="url(#cc24)"/>
<circle cx="275.6" cy="827.80" r="4.5" fill="#ff8a65" stroke="#fff" stroke-width="1.7" clip-path="url(#cc24)"/>
<path d="M255.00,843.60 C256.28,843.00 258.18,840.85 262.70,840.00 C267.22,839.15 275.63,838.60 282.10,838.50 C288.57,838.40 294.57,839.07 301.50,839.40 C308.43,839.73 314.92,839.95 323.70,840.50 C332.48,841.05 348.65,842.33 354.20,842.70 C359.75,843.07 356.53,842.70 357.00,842.70 L357.00,843.60 L255.00,843.60 Z" fill="#ff8a65" stroke="#fff" stroke-width="0.5"/>
<path d="M205.00,843.60 C206.28,843.45 209.57,843.77 212.70,842.70 C215.83,841.63 220.55,839.13 223.80,837.20 C227.05,835.27 230.12,832.50 232.20,831.10 C234.28,829.70 234.68,828.72 236.30,828.80 C237.92,828.88 239.35,830.20 241.90,831.60 C244.45,833.00 248.13,835.67 251.60,837.20 C255.07,838.73 258.80,839.90 262.70,840.80 C266.60,841.70 270.78,842.13 275.00,842.60 C279.22,843.07 285.83,843.43 288.00,843.60 L288.00,843.60 L205.00,843.60 Z" fill="rgba(34,125,161,0.82)" stroke="#fff" stroke-width="0.5"/>
<clipPath id="cc25"><rect x="160" y="835.60" width="240" height="8"/></clipPath>
<circle cx="241.3" cy="843.60" r="4.5" fill="#4a93b8" stroke="#fff" stroke-width="1.7" clip-path="url(#cc25)"/>
<circle cx="279.1" cy="843.60" r="4.5" fill="#ff8a65" stroke="#fff" stroke-width="1.7" clip-path="url(#cc25)"/>
<line x1="187.80" y1="433.00" x2="187.80" y2="845.00" stroke="rgba(0,0,0,0.17)" stroke-width="0.8" />
<line x1="217.60" y1="433.00" x2="217.60" y2="845.00" stroke="rgba(0,0,0,0.17)" stroke-width="0.8" />
<line x1="247.40" y1="433.00" x2="247.40" y2="845.00" stroke="rgba(0,0,0,0.17)" stroke-width="0.8" />
<line x1="277.20" y1="433.00" x2="277.20" y2="845.00" stroke="rgba(0,0,0,0.17)" stroke-width="0.8" />
<line x1="307.00" y1="433.00" x2="307.00" y2="845.00" stroke="rgba(0,0,0,0.17)" stroke-width="0.8" />
<line x1="336.80" y1="433.00" x2="336.80" y2="845.00" stroke="rgba(0,0,0,0.17)" stroke-width="0.8" />
<text x="149.40" y="444.50" font-size="10.6" fill="#222" text-anchor="end" textLength="50.10" lengthAdjust="spacingAndGlyphs">CNS T000</text>
<rect x="155.7" y="433.60" width="2.4" height="14.6" fill="#3a5fd9"/>
<text x="160.30" y="444.40" font-size="10.4" fill="#2a2a2a" textLength="38.30" lengthAdjust="spacingAndGlyphs"><tspan font-style="italic">P</tspan> = 0.00</text>
<text x="396.20" y="440.20" font-size="8" fill="#2f7aa6" text-anchor="end" textLength="34.23" lengthAdjust="spacingAndGlyphs"><tspan font-style="italic">n</tspan> = 14,179</text>
<text x="396.20" y="448.10" font-size="8" fill="#f26a48" text-anchor="end" textLength="23.69" lengthAdjust="spacingAndGlyphs"><tspan font-style="italic">n</tspan> = 114</text>
<text x="149.40" y="460.30" font-size="10.6" fill="#222" text-anchor="end" textLength="57.90" lengthAdjust="spacingAndGlyphs">NEBLA T001</text>
<rect x="155.7" y="449.40" width="2.4" height="14.6" fill="#0b0b6e"/>
<text x="160.30" y="460.20" font-size="10.4" fill="#2a2a2a" textLength="38.30" lengthAdjust="spacingAndGlyphs"><tspan font-style="italic">P</tspan> = 0.00</text>
<text x="396.20" y="456.00" font-size="8" fill="#2f7aa6" text-anchor="end" textLength="34.23" lengthAdjust="spacingAndGlyphs"><tspan font-style="italic">n</tspan> = 14,227</text>
<text x="396.20" y="463.90" font-size="8" fill="#f26a48" text-anchor="end" textLength="20.22" lengthAdjust="spacingAndGlyphs"><tspan font-style="italic">n</tspan> = 66</text>
<text x="149.40" y="476.10" font-size="10.6" fill="#222" text-anchor="end" textLength="118.80" lengthAdjust="spacingAndGlyphs">MESODM STEMlow T002</text>
<rect x="155.7" y="465.20" width="2.4" height="14.6" fill="#3ba34a"/>
<text x="160.30" y="476.00" font-size="10.4" fill="#2a2a2a" textLength="38.30" lengthAdjust="spacingAndGlyphs"><tspan font-style="italic">P</tspan> = 0.00</text>
<text x="396.20" y="471.80" font-size="8" fill="#2f7aa6" text-anchor="end" textLength="34.23" lengthAdjust="spacingAndGlyphs"><tspan font-style="italic">n</tspan> = 14,194</text>
<text x="396.20" y="479.70" font-size="8" fill="#f26a48" text-anchor="end" textLength="20.22" lengthAdjust="spacingAndGlyphs"><tspan font-style="italic">n</tspan> = 99</text>
<text x="149.40" y="491.90" font-size="10.6" fill="#222" text-anchor="end" textLength="123.70" lengthAdjust="spacingAndGlyphs">MESODM STEMhigh T003</text>
<rect x="155.7" y="481.00" width="2.4" height="14.6" fill="#a8f0c0"/>
<text x="160.30" y="491.80" font-size="10.4" fill="#2a2a2a" textLength="35.40" lengthAdjust="spacingAndGlyphs"><tspan font-style="italic">P</tspan> = 0.01</text>
<text x="396.20" y="487.60" font-size="8" fill="#2f7aa6" text-anchor="end" textLength="34.23" lengthAdjust="spacingAndGlyphs"><tspan font-style="italic">n</tspan> = 14,191</text>
<text x="396.20" y="495.50" font-size="8" fill="#f26a48" text-anchor="end" textLength="24.22" lengthAdjust="spacingAndGlyphs"><tspan font-style="italic">n</tspan> = 102</text>
<text x="149.40" y="507.70" font-size="10.6" fill="#222" text-anchor="end" textLength="61.30" lengthAdjust="spacingAndGlyphs">EWING T004</text>
<rect x="155.7" y="496.80" width="2.4" height="14.6" fill="#b8e030"/>
<text x="160.30" y="507.60" font-size="10.4" fill="#2a2a2a" textLength="38.30" lengthAdjust="spacingAndGlyphs"><tspan font-style="italic">P</tspan> = 0.00</text>
<text x="396.20" y="503.40" font-size="8" fill="#2f7aa6" text-anchor="end" textLength="34.23" lengthAdjust="spacingAndGlyphs"><tspan font-style="italic">n</tspan> = 14,251</text>
<text x="396.20" y="511.30" font-size="8" fill="#f26a48" text-anchor="end" textLength="20.22" lengthAdjust="spacingAndGlyphs"><tspan font-style="italic">n</tspan> = 42</text>
<text x="149.40" y="523.50" font-size="10.6" fill="#222" text-anchor="end" textLength="52.80" lengthAdjust="spacingAndGlyphs">LEUK T005</text>
<rect x="155.7" y="512.60" width="2.4" height="14.6" fill="#e0104a"/>
<text x="160.30" y="523.40" font-size="10.4" fill="#2a2a2a" textLength="38.30" lengthAdjust="spacingAndGlyphs"><tspan font-style="italic">P</tspan> = 0.00</text>
<text x="396.20" y="519.20" font-size="8" fill="#2f7aa6" text-anchor="end" textLength="34.23" lengthAdjust="spacingAndGlyphs"><tspan font-style="italic">n</tspan> = 14,136</text>
<text x="396.20" y="527.10" font-size="8" fill="#f26a48" text-anchor="end" textLength="24.22" lengthAdjust="spacingAndGlyphs"><tspan font-style="italic">n</tspan> = 157</text>
<text x="149.40" y="539.30" font-size="10.6" fill="#222" text-anchor="end" textLength="60.90" lengthAdjust="spacingAndGlyphs">LYMPH T006</text>
<rect x="155.7" y="528.40" width="2.4" height="14.6" fill="#f6c0c8"/>
<text x="160.30" y="539.20" font-size="10.4" fill="#2a2a2a" textLength="38.30" lengthAdjust="spacingAndGlyphs"><tspan font-style="italic">P</tspan> = 0.00</text>
<text x="396.20" y="535.00" font-size="8" fill="#2f7aa6" text-anchor="end" textLength="34.23" lengthAdjust="spacingAndGlyphs"><tspan font-style="italic">n</tspan> = 14,264</text>
<text x="396.20" y="542.90" font-size="8" fill="#f26a48" text-anchor="end" textLength="20.22" lengthAdjust="spacingAndGlyphs"><tspan font-style="italic">n</tspan> = 29</text>
<text x="149.40" y="555.10" font-size="10.6" fill="#222" text-anchor="end" textLength="54.20" lengthAdjust="spacingAndGlyphs">THCA T007</text>
<rect x="155.7" y="544.20" width="2.4" height="14.6" fill="#f07820"/>
<text x="160.30" y="555.00" font-size="10.4" fill="#2a2a2a" textLength="38.30" lengthAdjust="spacingAndGlyphs"><tspan font-style="italic">P</tspan> = 0.00</text>
<text x="396.20" y="550.80" font-size="8" fill="#2f7aa6" text-anchor="end" textLength="34.23" lengthAdjust="spacingAndGlyphs"><tspan font-style="italic">n</tspan> = 14,220</text>
<text x="396.20" y="558.70" font-size="8" fill="#f26a48" text-anchor="end" textLength="20.22" lengthAdjust="spacingAndGlyphs"><tspan font-style="italic">n</tspan> = 73</text>
<text x="149.40" y="570.90" font-size="10.6" fill="#222" text-anchor="end" textLength="55.80" lengthAdjust="spacingAndGlyphs">THYM T008</text>
<rect x="155.7" y="560.00" width="2.4" height="14.6" fill="#fcd0a8"/>
<text x="160.30" y="570.80" font-size="10.4" fill="#2a2a2a" textLength="38.30" lengthAdjust="spacingAndGlyphs"><tspan font-style="italic">P</tspan> = 0.00</text>
<text x="396.20" y="566.60" font-size="8" fill="#2f7aa6" text-anchor="end" textLength="34.23" lengthAdjust="spacingAndGlyphs"><tspan font-style="italic">n</tspan> = 14,261</text>
<text x="396.20" y="574.50" font-size="8" fill="#f26a48" text-anchor="end" textLength="20.22" lengthAdjust="spacingAndGlyphs"><tspan font-style="italic">n</tspan> = 32</text>
<text x="149.40" y="586.70" font-size="10.6" fill="#222" text-anchor="end" textLength="55.40" lengthAdjust="spacingAndGlyphs">PCPG T009</text>
<rect x="155.7" y="575.80" width="2.4" height="14.6" fill="#5a8ae8"/>
<text x="160.30" y="586.60" font-size="10.4" fill="#2a2a2a" textLength="38.30" lengthAdjust="spacingAndGlyphs"><tspan font-style="italic">P</tspan> = 0.00</text>
<text x="396.20" y="582.40" font-size="8" fill="#2f7aa6" text-anchor="end" textLength="34.23" lengthAdjust="spacingAndGlyphs"><tspan font-style="italic">n</tspan> = 14,244</text>
<text x="396.20" y="590.30" font-size="8" fill="#f26a48" text-anchor="end" textLength="20.22" lengthAdjust="spacingAndGlyphs"><tspan font-style="italic">n</tspan> = 49</text>
<text x="149.40" y="602.50" font-size="10.6" fill="#222" text-anchor="end" textLength="36.40" lengthAdjust="spacingAndGlyphs">GI T010</text>
<rect x="155.7" y="591.60" width="2.4" height="14.6" fill="#f0e090"/>
<text x="160.30" y="602.40" font-size="10.4" fill="#2a2a2a" textLength="38.30" lengthAdjust="spacingAndGlyphs"><tspan font-style="italic">P</tspan> = 0.00</text>
<text x="396.20" y="598.20" font-size="8" fill="#2f7aa6" text-anchor="end" textLength="34.23" lengthAdjust="spacingAndGlyphs"><tspan font-style="italic">n</tspan> = 14,195</text>
<text x="396.20" y="606.10" font-size="8" fill="#f26a48" text-anchor="end" textLength="20.22" lengthAdjust="spacingAndGlyphs"><tspan font-style="italic">n</tspan> = 98</text>
<text x="149.40" y="618.30" font-size="10.6" fill="#222" text-anchor="end" textLength="49.10" lengthAdjust="spacingAndGlyphs">LUAD T011</text>
<rect x="155.7" y="607.40" width="2.4" height="14.6" fill="#a0e8ec"/>
<text x="160.30" y="618.20" font-size="10.4" fill="#2a2a2a" textLength="37.00" lengthAdjust="spacingAndGlyphs"><tspan font-style="italic">P</tspan> = 0.44</text>
<text x="396.20" y="614.00" font-size="8" fill="#2f7aa6" text-anchor="end" textLength="34.23" lengthAdjust="spacingAndGlyphs"><tspan font-style="italic">n</tspan> = 14,222</text>
<text x="396.20" y="621.90" font-size="8" fill="#f26a48" text-anchor="end" textLength="20.22" lengthAdjust="spacingAndGlyphs"><tspan font-style="italic">n</tspan> = 71</text>
<text x="149.40" y="634.10" font-size="10.6" fill="#222" text-anchor="end" textLength="75.90" lengthAdjust="spacingAndGlyphs">SCC/BLCA T012</text>
<rect x="155.7" y="623.20" width="2.4" height="14.6" fill="#6a7a90"/>
<text x="160.30" y="634.00" font-size="10.4" fill="#2a2a2a" textLength="34.20" lengthAdjust="spacingAndGlyphs"><tspan font-style="italic">P</tspan> = 0.17</text>
<text x="396.20" y="629.80" font-size="8" fill="#2f7aa6" text-anchor="end" textLength="34.23" lengthAdjust="spacingAndGlyphs"><tspan font-style="italic">n</tspan> = 14,186</text>
<text x="396.20" y="637.70" font-size="8" fill="#f26a48" text-anchor="end" textLength="24.22" lengthAdjust="spacingAndGlyphs"><tspan font-style="italic">n</tspan> = 107</text>
<text x="149.40" y="649.90" font-size="10.6" fill="#222" text-anchor="end" textLength="51.70" lengthAdjust="spacingAndGlyphs">MELA T013</text>
<rect x="155.7" y="639.00" width="2.4" height="14.6" fill="#f87850"/>
<text x="160.30" y="649.80" font-size="10.4" fill="#2a2a2a" textLength="38.30" lengthAdjust="spacingAndGlyphs"><tspan font-style="italic">P</tspan> = 0.00</text>
<text x="396.20" y="645.60" font-size="8" fill="#2f7aa6" text-anchor="end" textLength="34.23" lengthAdjust="spacingAndGlyphs"><tspan font-style="italic">n</tspan> = 14,242</text>
<text x="396.20" y="653.50" font-size="8" fill="#f26a48" text-anchor="end" textLength="20.22" lengthAdjust="spacingAndGlyphs"><tspan font-style="italic">n</tspan> = 51</text>
<text x="149.40" y="665.70" font-size="10.6" fill="#222" text-anchor="end" textLength="86.90" lengthAdjust="spacingAndGlyphs">BRCA noBAS T014</text>
<rect x="155.7" y="654.80" width="2.4" height="14.6" fill="#f8d000"/>
<text x="160.30" y="665.60" font-size="10.4" fill="#2a2a2a" textLength="38.30" lengthAdjust="spacingAndGlyphs"><tspan font-style="italic">P</tspan> = 0.00</text>
<text x="396.20" y="661.40" font-size="8" fill="#2f7aa6" text-anchor="end" textLength="34.23" lengthAdjust="spacingAndGlyphs"><tspan font-style="italic">n</tspan> = 14,212</text>
<text x="396.20" y="669.30" font-size="8" fill="#f26a48" text-anchor="end" textLength="20.22" lengthAdjust="spacingAndGlyphs"><tspan font-style="italic">n</tspan> = 81</text>
<text x="149.40" y="681.50" font-size="10.6" fill="#222" text-anchor="end" textLength="73.80" lengthAdjust="spacingAndGlyphs">BRCA BAS T015</text>
<rect x="155.7" y="670.60" width="2.4" height="14.6" fill="#fff0b0"/>
<text x="160.30" y="681.40" font-size="10.4" fill="#2a2a2a" textLength="38.30" lengthAdjust="spacingAndGlyphs"><tspan font-style="italic">P</tspan> = 0.00</text>
<text x="396.20" y="677.20" font-size="8" fill="#2f7aa6" text-anchor="end" textLength="34.23" lengthAdjust="spacingAndGlyphs"><tspan font-style="italic">n</tspan> = 14,222</text>
<text x="396.20" y="685.10" font-size="8" fill="#f26a48" text-anchor="end" textLength="20.22" lengthAdjust="spacingAndGlyphs"><tspan font-style="italic">n</tspan> = 71</text>
<text x="149.40" y="697.30" font-size="10.6" fill="#222" text-anchor="end" textLength="57.90" lengthAdjust="spacingAndGlyphs">HEPAC T016</text>
<rect x="155.7" y="686.40" width="2.4" height="14.6" fill="#700010"/>
<text x="160.30" y="697.20" font-size="10.4" fill="#2a2a2a" textLength="38.30" lengthAdjust="spacingAndGlyphs"><tspan font-style="italic">P</tspan> = 0.00</text>
<text x="396.20" y="693.00" font-size="8" fill="#2f7aa6" text-anchor="end" textLength="34.23" lengthAdjust="spacingAndGlyphs"><tspan font-style="italic">n</tspan> = 14,183</text>
<text x="396.20" y="700.90" font-size="8" fill="#f26a48" text-anchor="end" textLength="23.69" lengthAdjust="spacingAndGlyphs"><tspan font-style="italic">n</tspan> = 110</text>
<text x="149.40" y="713.10" font-size="10.6" fill="#222" text-anchor="end" textLength="50.70" lengthAdjust="spacingAndGlyphs">PAAD T017</text>
<rect x="155.7" y="702.20" width="2.4" height="14.6" fill="#c0c0c0"/>
<text x="160.30" y="713.00" font-size="10.4" fill="#2a2a2a" textLength="38.00" lengthAdjust="spacingAndGlyphs"><tspan font-style="italic">P</tspan> = 0.09</text>
<text x="396.20" y="708.80" font-size="8" fill="#2f7aa6" text-anchor="end" textLength="34.23" lengthAdjust="spacingAndGlyphs"><tspan font-style="italic">n</tspan> = 14,214</text>
<text x="396.20" y="716.70" font-size="8" fill="#f26a48" text-anchor="end" textLength="20.22" lengthAdjust="spacingAndGlyphs"><tspan font-style="italic">n</tspan> = 79</text>
<text x="149.40" y="728.90" font-size="10.6" fill="#222" text-anchor="end" textLength="46.60" lengthAdjust="spacingAndGlyphs">ACC T018</text>
<rect x="155.7" y="718.00" width="2.4" height="14.6" fill="#f030e0"/>
<text x="160.30" y="728.80" font-size="10.4" fill="#2a2a2a" textLength="38.30" lengthAdjust="spacingAndGlyphs"><tspan font-style="italic">P</tspan> = 0.00</text>
<text x="396.20" y="724.60" font-size="8" fill="#2f7aa6" text-anchor="end" textLength="34.23" lengthAdjust="spacingAndGlyphs"><tspan font-style="italic">n</tspan> = 14,246</text>
<text x="396.20" y="732.50" font-size="8" fill="#f26a48" text-anchor="end" textLength="20.22" lengthAdjust="spacingAndGlyphs"><tspan font-style="italic">n</tspan> = 47</text>
<text x="149.40" y="744.70" font-size="10.6" fill="#222" text-anchor="end" textLength="49.30" lengthAdjust="spacingAndGlyphs">KICC T019</text>
<rect x="155.7" y="733.80" width="2.4" height="14.6" fill="#e8b8f8"/>
<text x="160.30" y="744.60" font-size="10.4" fill="#2a2a2a" textLength="38.30" lengthAdjust="spacingAndGlyphs"><tspan font-style="italic">P</tspan> = 0.00</text>
<text x="396.20" y="740.40" font-size="8" fill="#2f7aa6" text-anchor="end" textLength="34.23" lengthAdjust="spacingAndGlyphs"><tspan font-style="italic">n</tspan> = 14,249</text>
<text x="396.20" y="748.30" font-size="8" fill="#f26a48" text-anchor="end" textLength="20.22" lengthAdjust="spacingAndGlyphs"><tspan font-style="italic">n</tspan> = 44</text>
<text x="149.40" y="760.50" font-size="10.6" fill="#222" text-anchor="end" textLength="57.50" lengthAdjust="spacingAndGlyphs">KIPCC T020</text>
<rect x="155.7" y="749.60" width="2.4" height="14.6" fill="#8020c0"/>
<text x="160.30" y="760.40" font-size="10.4" fill="#2a2a2a" textLength="38.30" lengthAdjust="spacingAndGlyphs"><tspan font-style="italic">P</tspan> = 0.00</text>
<text x="396.20" y="756.20" font-size="8" fill="#2f7aa6" text-anchor="end" textLength="34.23" lengthAdjust="spacingAndGlyphs"><tspan font-style="italic">n</tspan> = 14,230</text>
<text x="396.20" y="764.10" font-size="8" fill="#f26a48" text-anchor="end" textLength="20.22" lengthAdjust="spacingAndGlyphs"><tspan font-style="italic">n</tspan> = 63</text>
<text x="149.40" y="776.30" font-size="10.6" fill="#222" text-anchor="end" textLength="48.70" lengthAdjust="spacingAndGlyphs">KICH T021</text>
<rect x="155.7" y="765.40" width="2.4" height="14.6" fill="#400890"/>
<text x="160.30" y="776.20" font-size="10.4" fill="#2a2a2a" textLength="38.30" lengthAdjust="spacingAndGlyphs"><tspan font-style="italic">P</tspan> = 0.00</text>
<text x="396.20" y="772.00" font-size="8" fill="#2f7aa6" text-anchor="end" textLength="34.23" lengthAdjust="spacingAndGlyphs"><tspan font-style="italic">n</tspan> = 14,247</text>
<text x="396.20" y="779.90" font-size="8" fill="#f26a48" text-anchor="end" textLength="20.22" lengthAdjust="spacingAndGlyphs"><tspan font-style="italic">n</tspan> = 46</text>
<text x="149.40" y="792.10" font-size="10.6" fill="#222" text-anchor="end" textLength="85.90" lengthAdjust="spacingAndGlyphs">UCEC/CECC T022</text>
<rect x="155.7" y="781.20" width="2.4" height="14.6" fill="#506030"/>
<text x="160.30" y="792.00" font-size="10.4" fill="#2a2a2a" textLength="38.30" lengthAdjust="spacingAndGlyphs"><tspan font-style="italic">P</tspan> = 0.00</text>
<text x="396.20" y="787.80" font-size="8" fill="#2f7aa6" text-anchor="end" textLength="34.23" lengthAdjust="spacingAndGlyphs"><tspan font-style="italic">n</tspan> = 14,223</text>
<text x="396.20" y="795.70" font-size="8" fill="#f26a48" text-anchor="end" textLength="20.22" lengthAdjust="spacingAndGlyphs"><tspan font-style="italic">n</tspan> = 70</text>
<text x="149.40" y="807.90" font-size="10.6" fill="#222" text-anchor="end" textLength="41.50" lengthAdjust="spacingAndGlyphs">OV T023</text>
<rect x="155.7" y="797.00" width="2.4" height="14.6" fill="#888010"/>
<text x="160.30" y="807.80" font-size="10.4" fill="#2a2a2a" textLength="38.30" lengthAdjust="spacingAndGlyphs"><tspan font-style="italic">P</tspan> = 0.00</text>
<text x="396.20" y="803.60" font-size="8" fill="#2f7aa6" text-anchor="end" textLength="34.23" lengthAdjust="spacingAndGlyphs"><tspan font-style="italic">n</tspan> = 14,220</text>
<text x="396.20" y="811.50" font-size="8" fill="#f26a48" text-anchor="end" textLength="20.22" lengthAdjust="spacingAndGlyphs"><tspan font-style="italic">n</tspan> = 73</text>
<text x="149.40" y="823.70" font-size="10.6" fill="#222" text-anchor="end" textLength="52.80" lengthAdjust="spacingAndGlyphs">PRAD T024</text>
<rect x="155.7" y="812.80" width="2.4" height="14.6" fill="#40d0f8"/>
<text x="160.30" y="823.60" font-size="10.4" fill="#2a2a2a" textLength="38.30" lengthAdjust="spacingAndGlyphs"><tspan font-style="italic">P</tspan> = 0.00</text>
<text x="396.20" y="819.40" font-size="8" fill="#2f7aa6" text-anchor="end" textLength="34.23" lengthAdjust="spacingAndGlyphs"><tspan font-style="italic">n</tspan> = 14,241</text>
<text x="396.20" y="827.30" font-size="8" fill="#f26a48" text-anchor="end" textLength="20.22" lengthAdjust="spacingAndGlyphs"><tspan font-style="italic">n</tspan> = 52</text>
<text x="149.40" y="839.50" font-size="10.6" fill="#222" text-anchor="end" textLength="76.70" lengthAdjust="spacingAndGlyphs">TGCT SEM T025</text>
<rect x="155.7" y="828.60" width="2.4" height="14.6" fill="#409088"/>
<text x="160.30" y="839.40" font-size="10.4" fill="#2a2a2a" textLength="38.30" lengthAdjust="spacingAndGlyphs"><tspan font-style="italic">P</tspan> = 0.00</text>
<text x="396.20" y="835.20" font-size="8" fill="#2f7aa6" text-anchor="end" textLength="34.23" lengthAdjust="spacingAndGlyphs"><tspan font-style="italic">n</tspan> = 14,258</text>
<text x="396.20" y="843.10" font-size="8" fill="#f26a48" text-anchor="end" textLength="20.22" lengthAdjust="spacingAndGlyphs"><tspan font-style="italic">n</tspan> = 35</text>
<text x="158.00" y="855.60" font-size="9.3" fill="#222" text-anchor="middle">0.4</text>
<text x="187.80" y="855.60" font-size="9.3" fill="#222" text-anchor="middle">0.6</text>
<text x="217.60" y="855.60" font-size="9.3" fill="#222" text-anchor="middle">0.8</text>
<text x="247.40" y="855.60" font-size="9.3" fill="#222" text-anchor="middle">1.0</text>
<text x="277.20" y="855.60" font-size="9.3" fill="#222" text-anchor="middle">1.2</text>
<text x="307.00" y="855.60" font-size="9.3" fill="#222" text-anchor="middle">1.4</text>
<text x="336.80" y="855.60" font-size="9.3" fill="#222" text-anchor="middle">1.6</text>
<text x="366.60" y="855.60" font-size="9.3" fill="#222" text-anchor="middle">1.8</text>
<text x="262.20" y="872.60" font-size="10" fill="#222" text-anchor="middle" font-style="italic">S</text>
<text x="426.80" y="405.40" font-size="15" fill="#000" font-weight="bold">d</text>
<text x="542.60" y="414.80" font-size="10.8" fill="#222" text-anchor="middle" textLength="109.00" lengthAdjust="spacingAndGlyphs">Intra-class comparison</text>
<text x="474.00" y="442.60" font-size="10.8" fill="#222" text-anchor="middle" textLength="42.00" lengthAdjust="spacingAndGlyphs">Pediatric</text>
<text x="473.90" y="454.80" font-size="10.8" fill="#222" text-anchor="middle" textLength="45.30" lengthAdjust="spacingAndGlyphs">(age &lt; 18)</text>
<text x="598.40" y="441.00" font-size="10.8" fill="#222" text-anchor="middle" textLength="25.70" lengthAdjust="spacingAndGlyphs">Adult</text>
<text x="598.40" y="453.60" font-size="10.8" fill="#222" text-anchor="middle" textLength="46.00" lengthAdjust="spacingAndGlyphs">(age ≥ 18)</text>
<line x1="488.30" y1="474.70" x2="583.80" y2="474.70" stroke="#d0d0d0" stroke-width="0.9" />
<rect x="458.8" y="474.30" width="1.2" height="0.8" fill="#bbb"/>
<text x="610.70" y="477.90" font-size="9" fill="#222">1.20</text>
<line x1="488.30" y1="533.94" x2="583.80" y2="533.94" stroke="#d0d0d0" stroke-width="0.9" />
<rect x="458.8" y="533.54" width="1.2" height="0.8" fill="#bbb"/>
<text x="610.70" y="537.14" font-size="9" fill="#222">1.15</text>
<line x1="488.30" y1="593.17" x2="583.80" y2="593.17" stroke="#d0d0d0" stroke-width="0.9" />
<rect x="458.8" y="592.77" width="1.2" height="0.8" fill="#bbb"/>
<text x="610.70" y="596.37" font-size="9" fill="#222">1.10</text>
<line x1="488.30" y1="652.41" x2="583.80" y2="652.41" stroke="#d0d0d0" stroke-width="0.9" />
<rect x="458.8" y="652.01" width="1.2" height="0.8" fill="#bbb"/>
<text x="610.70" y="655.61" font-size="9" fill="#222">1.05</text>
<line x1="488.30" y1="711.64" x2="583.80" y2="711.64" stroke="#d0d0d0" stroke-width="0.9" />
<rect x="458.8" y="711.24" width="1.2" height="0.8" fill="#bbb"/>
<text x="610.70" y="714.84" font-size="9" fill="#222">1.00</text>
<line x1="488.30" y1="770.88" x2="583.80" y2="770.88" stroke="#d0d0d0" stroke-width="0.9" />
<rect x="458.8" y="770.48" width="1.2" height="0.8" fill="#bbb"/>
<text x="610.70" y="774.08" font-size="9" fill="#222">0.95</text>
<line x1="488.30" y1="830.11" x2="583.80" y2="830.11" stroke="#d0d0d0" stroke-width="0.9" />
<rect x="458.8" y="829.71" width="1.2" height="0.8" fill="#bbb"/>
<text x="610.70" y="833.31" font-size="9" fill="#222">0.90</text>
<text x="637.50" y="662.20" font-size="10" fill="#222" text-anchor="middle" transform="rotate(90 637.50 662.20)">S</text>
<path d="M484.90,463.40 C484.43,469.02 483.27,486.80 482.10,497.10 C480.93,507.40 479.30,516.78 477.90,525.20 C476.50,533.62 475.10,539.65 473.70,547.60 C472.30,555.55 470.67,564.93 469.50,572.90 C468.33,580.87 467.08,588.85 466.70,595.40 C466.32,601.95 466.73,606.60 467.20,612.20 C467.67,617.80 468.42,622.45 469.50,629.00 C470.58,635.55 472.30,644.02 473.70,651.50 C475.10,658.98 476.50,666.42 477.90,673.90 C479.30,681.38 480.98,687.05 482.10,696.40 C483.22,705.75 484.07,716.07 484.60,730.00 C485.13,743.93 485.13,758.83 485.30,780.00 C485.47,801.17 485.55,844.17 485.60,857.00 L485.8,857 L485.8,463.4 Z" fill="#fe7145"/>
<path d="M586.60,593.30 C586.77,595.25 587.17,598.93 587.60,605.00 C588.03,611.07 588.27,620.05 589.20,629.70 C590.13,639.35 591.70,652.95 593.20,662.90 C594.70,672.85 596.53,681.12 598.20,689.40 C599.87,697.68 602.10,706.53 603.20,712.60 C604.30,718.67 604.80,720.28 604.80,725.80 C604.80,731.32 604.30,737.97 603.20,745.70 C602.10,753.43 599.87,763.92 598.20,772.20 C596.53,780.48 594.58,787.65 593.20,795.40 C591.82,803.15 590.83,810.40 589.90,818.70 C588.97,827.00 588.12,838.58 587.60,845.20 C587.08,851.82 586.93,856.20 586.80,858.40 L586.6,858.4 Z" fill="#267aa2"/>
<clipPath id="cdl"><rect x="470" y="580" width="15.8" height="30"/></clipPath>
<circle cx="485.6" cy="594.5" r="9" fill="#fe7145" stroke="#fff" stroke-width="2" clip-path="url(#cdl)"/>
<clipPath id="cdr"><rect x="586.6" y="710" width="20" height="30"/></clipPath>
<circle cx="586.6" cy="723.6" r="9" fill="#267aa2" stroke="#fff" stroke-width="2" clip-path="url(#cdr)"/>
<line x1="488.60" y1="501.30" x2="583.80" y2="738.80" stroke="#1f2a64" stroke-width="1.12" />
<line x1="488.60" y1="510.60" x2="583.80" y2="739.80" stroke="#4466dd" stroke-width="1.12" />
<line x1="488.60" y1="518.90" x2="583.80" y2="746.90" stroke="#2c3d8c" stroke-width="1.12" />
<line x1="488.60" y1="528.70" x2="583.80" y2="657.70" stroke="#8eeaa0" stroke-width="1.12" />
<line x1="488.60" y1="535.90" x2="583.80" y2="663.40" stroke="#a4f2b4" stroke-width="1.12" />
<line x1="488.60" y1="544.10" x2="583.80" y2="671.60" stroke="#3c9a52" stroke-width="1.12" />
<line x1="488.60" y1="550.30" x2="583.80" y2="712.00" stroke="#4c8d5c" stroke-width="1.568" />
<line x1="488.60" y1="566.80" x2="583.80" y2="737.80" stroke="#1f2a64" stroke-width="1.12" />
<line x1="488.60" y1="577.60" x2="583.80" y2="750.00" stroke="#1f2a64" stroke-width="1.12" />
<line x1="488.60" y1="582.40" x2="583.80" y2="680.40" stroke="#3c9a52" stroke-width="1.12" />
<line x1="488.60" y1="583.40" x2="583.80" y2="700.00" stroke="#4aa060" stroke-width="1.12" />
<line x1="488.60" y1="588.60" x2="583.80" y2="761.40" stroke="#d01a4c" stroke-width="1.12" />
<line x1="488.60" y1="590.10" x2="583.80" y2="634.00" stroke="#2d6b3c" stroke-width="1.12" />
<line x1="488.60" y1="590.60" x2="583.80" y2="754.20" stroke="#1f2a64" stroke-width="1.12" />
<line x1="488.60" y1="591.50" x2="583.80" y2="766.20" stroke="#1f2a64" stroke-width="1.12" />
<line x1="488.60" y1="592.50" x2="583.80" y2="745.00" stroke="#1f2a64" stroke-width="1.12" />
<line x1="488.60" y1="593.70" x2="583.80" y2="775.50" stroke="#1f2a64" stroke-width="1.12" />
<line x1="488.60" y1="598.40" x2="583.80" y2="723.30" stroke="#d01a4c" stroke-width="1.12" />
<line x1="488.60" y1="608.10" x2="583.80" y2="624.20" stroke="#a3123f" stroke-width="1.12" />
<line x1="488.60" y1="614.80" x2="583.80" y2="627.30" stroke="#a3123f" stroke-width="1.12" />
<line x1="488.60" y1="621.50" x2="583.80" y2="679.40" stroke="#b4e8f0" stroke-width="1.12" />
<line x1="488.60" y1="631.30" x2="583.80" y2="691.30" stroke="#2d6b3c" stroke-width="1.12" />
<line x1="488.60" y1="631.90" x2="583.80" y2="696.50" stroke="#4b7d6b" stroke-width="1.12" />
<line x1="488.60" y1="633.00" x2="583.80" y2="790.40" stroke="#3d5a5c" stroke-width="1.12" />
<line x1="488.60" y1="644.60" x2="583.80" y2="834.70" stroke="#1f2a64" stroke-width="1.12" />
<line x1="488.60" y1="660.60" x2="583.80" y2="775.50" stroke="#2c3d8c" stroke-width="1.12" />
<line x1="488.60" y1="662.00" x2="583.80" y2="778.00" stroke="#2c3d8c" stroke-width="1.12" />
<line x1="488.60" y1="663.70" x2="583.80" y2="783.20" stroke="#1f2a64" stroke-width="1.12" />
<line x1="488.60" y1="669.90" x2="583.80" y2="719.70" stroke="#2d6b3c" stroke-width="1.12" />
<line x1="488.60" y1="672.50" x2="583.80" y2="742.90" stroke="#2d6b3c" stroke-width="1.12" />
<line x1="488.60" y1="802.70" x2="583.80" y2="724.30" stroke="#f9bcb4" stroke-width="1.12" />
<text x="539.00" y="869.00" font-size="9.6" fill="#222" text-anchor="middle"><tspan font-style="italic">P</tspan> = 3.12 × 10<tspan dy="-3.5" font-size="6.5">−17</tspan></text>
</svg>
</body></html>
